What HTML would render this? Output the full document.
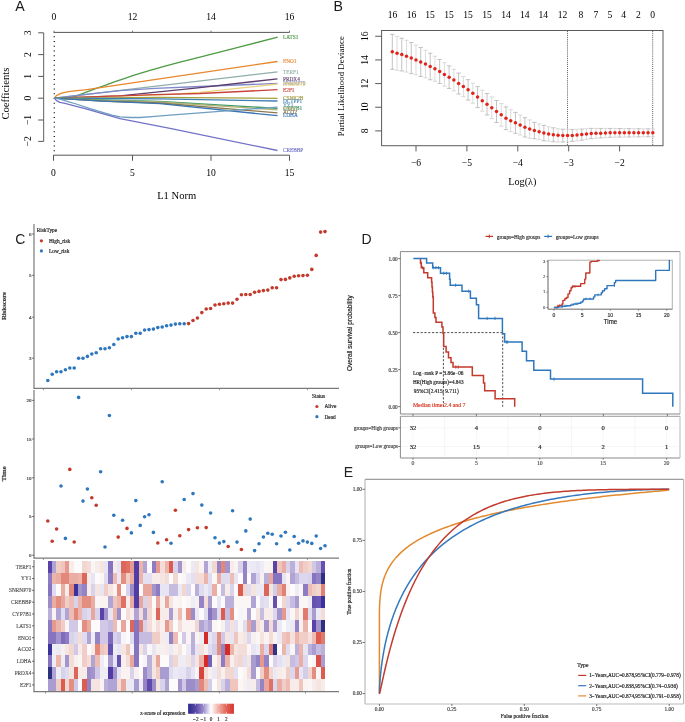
<!DOCTYPE html>
<html><head><meta charset="utf-8"><title>Figure</title>
<style>html,body{margin:0;padding:0;background:#fff;}svg{display:block;will-change:transform;}</style></head>
<body><svg width="685" height="722" viewBox="0 0 685 722">
<rect width="685" height="722" fill="#fff"/>
<text x="19.90" y="10.60" font-family='"Liberation Sans", sans-serif' font-size="14.2" text-anchor="middle" fill="#1a1a1a" >A</text>
<line x1="53.50" y1="32.40" x2="289.50" y2="32.40" stroke="#555555" stroke-width="1" />
<line x1="54.00" y1="32.40" x2="54.00" y2="30.60" stroke="#555555" stroke-width="0.8" />
<text x="54.00" y="19.60" font-family='"Liberation Serif", serif' font-size="9.6" text-anchor="middle" fill="#000" >0</text>
<line x1="132.50" y1="32.40" x2="132.50" y2="30.60" stroke="#555555" stroke-width="0.8" />
<text x="132.50" y="19.60" font-family='"Liberation Serif", serif' font-size="9.6" text-anchor="middle" fill="#000" >12</text>
<line x1="211.00" y1="32.40" x2="211.00" y2="30.60" stroke="#555555" stroke-width="0.8" />
<text x="211.00" y="19.60" font-family='"Liberation Serif", serif' font-size="9.6" text-anchor="middle" fill="#000" >14</text>
<line x1="289.50" y1="32.40" x2="289.50" y2="30.60" stroke="#555555" stroke-width="0.8" />
<text x="289.50" y="19.60" font-family='"Liberation Serif", serif' font-size="9.6" text-anchor="middle" fill="#000" >16</text>
<line x1="53.50" y1="155.20" x2="289.50" y2="155.20" stroke="#555555" stroke-width="1" />
<line x1="53.50" y1="155.20" x2="53.50" y2="160.80" stroke="#555555" stroke-width="1" />
<text x="53.50" y="175.60" font-family='"Liberation Serif", serif' font-size="9.6" text-anchor="middle" fill="#000" >0</text>
<line x1="132.50" y1="155.20" x2="132.50" y2="160.80" stroke="#555555" stroke-width="1" />
<text x="132.50" y="175.60" font-family='"Liberation Serif", serif' font-size="9.6" text-anchor="middle" fill="#000" >5</text>
<line x1="211.00" y1="155.20" x2="211.00" y2="160.80" stroke="#555555" stroke-width="1" />
<text x="211.00" y="175.60" font-family='"Liberation Serif", serif' font-size="9.6" text-anchor="middle" fill="#000" >10</text>
<line x1="289.50" y1="155.20" x2="289.50" y2="160.80" stroke="#555555" stroke-width="1" />
<text x="289.50" y="175.60" font-family='"Liberation Serif", serif' font-size="9.6" text-anchor="middle" fill="#000" >15</text>
<line x1="43.60" y1="32.80" x2="43.60" y2="141.40" stroke="#7a7a7a" stroke-width="1.2" />
<line x1="38.20" y1="32.80" x2="43.60" y2="32.80" stroke="#555555" stroke-width="1" />
<text x="30.60" y="32.80" font-family='"Liberation Serif", serif' font-size="9.6" text-anchor="middle" fill="#000" transform="rotate(-90 30.60 32.80)" >3</text>
<line x1="38.20" y1="54.60" x2="43.60" y2="54.60" stroke="#555555" stroke-width="1" />
<text x="30.60" y="54.60" font-family='"Liberation Serif", serif' font-size="9.6" text-anchor="middle" fill="#000" transform="rotate(-90 30.60 54.60)" >2</text>
<line x1="38.20" y1="76.40" x2="43.60" y2="76.40" stroke="#555555" stroke-width="1" />
<text x="30.60" y="76.40" font-family='"Liberation Serif", serif' font-size="9.6" text-anchor="middle" fill="#000" transform="rotate(-90 30.60 76.40)" >1</text>
<line x1="38.20" y1="98.20" x2="43.60" y2="98.20" stroke="#555555" stroke-width="1" />
<text x="30.60" y="98.20" font-family='"Liberation Serif", serif' font-size="9.6" text-anchor="middle" fill="#000" transform="rotate(-90 30.60 98.20)" >0</text>
<line x1="38.20" y1="120.00" x2="43.60" y2="120.00" stroke="#555555" stroke-width="1" />
<text x="30.60" y="120.00" font-family='"Liberation Serif", serif' font-size="9.6" text-anchor="middle" fill="#000" transform="rotate(-90 30.60 120.00)" >−1</text>
<line x1="38.20" y1="141.40" x2="43.60" y2="141.40" stroke="#555555" stroke-width="1" />
<text x="30.60" y="141.40" font-family='"Liberation Serif", serif' font-size="9.6" text-anchor="middle" fill="#000" transform="rotate(-90 30.60 141.40)" >−2</text>
<text x="8.60" y="93.60" font-family='"Liberation Serif", serif' font-size="10.7" text-anchor="middle" fill="#000" transform="rotate(-90 8.60 93.60)" >Coefficients</text>
<text x="176.70" y="199.00" font-family='"Liberation Serif", serif' font-size="10.6" text-anchor="middle" fill="#000" >L1 Norm</text>
<line x1="54.30" y1="36.15" x2="54.30" y2="155.00" stroke="#111" stroke-width="1.3" stroke-dasharray="1.2 3.55"/>
<polyline points="54.40,98.20 68.00,98.20 72.00,97.60 78.00,95.30 85.00,92.60 95.00,88.90 105.00,85.30 115.00,81.70 125.00,78.30 132.00,75.90 140.00,73.30 150.00,70.40 165.00,66.20 180.00,62.10 200.00,57.10 240.00,46.80 277.70,37.20" fill="none" stroke="#4e9a45" stroke-width="1.3" stroke-linejoin="round" />
<polyline points="54.40,98.20 55.50,96.60 57.30,95.10 60.80,93.40 65.00,92.30 70.00,91.40 77.00,90.60 85.00,89.80 277.50,61.50" fill="none" stroke="#e8862c" stroke-width="1.3" stroke-linejoin="round" />
<polyline points="54.40,98.20 277.50,71.90" fill="none" stroke="#8eaeaa" stroke-width="1.3" stroke-linejoin="round" />
<polyline points="54.40,98.20 100.00,92.90 120.00,90.70 155.00,88.30 200.00,86.50 277.50,83.40" fill="none" stroke="#7f88c8" stroke-width="1.3" stroke-linejoin="round" />
<polyline points="54.40,98.20 120.00,95.90 200.00,87.70 277.50,78.80" fill="none" stroke="#5c3d6c" stroke-width="1.3" stroke-linejoin="round" />
<polyline points="54.40,98.20 166.70,94.70 200.00,92.40 277.50,84.00" fill="none" stroke="#ecd27c" stroke-width="1.3" stroke-linejoin="round" />
<polyline points="54.40,98.20 155.00,94.70 200.00,93.50 277.50,89.70" fill="none" stroke="#c8443a" stroke-width="1.3" stroke-linejoin="round" />
<polyline points="54.40,98.20 102.00,97.80 160.00,97.40 277.50,98.30" fill="none" stroke="#a59f3e" stroke-width="1.3" stroke-linejoin="round" />
<polyline points="54.40,98.20 102.00,98.50 160.00,98.90 277.50,101.00" fill="none" stroke="#3d80b4" stroke-width="1.3" stroke-linejoin="round" />
<polyline points="54.40,98.20 102.00,100.00 160.00,101.50 277.50,108.40" fill="none" stroke="#3a9a6a" stroke-width="1.3" stroke-linejoin="round" />
<polyline points="54.40,98.20 102.00,100.50 160.00,102.00 277.50,109.80" fill="none" stroke="#b4b478" stroke-width="1.3" stroke-linejoin="round" />
<polyline points="54.40,98.20 102.00,101.00 160.00,103.00 277.50,112.90" fill="none" stroke="#8a7a4c" stroke-width="1.3" stroke-linejoin="round" />
<polyline points="54.40,98.20 102.00,101.20 160.00,103.60 277.50,115.70" fill="none" stroke="#3a74b4" stroke-width="1.3" stroke-linejoin="round" />
<polyline points="54.40,98.20 57.00,98.60 59.90,99.10 68.00,101.60 76.30,104.00 90.00,108.60 102.60,112.40 112.00,115.20 120.00,116.80 130.00,117.50 140.00,117.50 155.00,116.30 170.00,115.10 277.50,107.10" fill="none" stroke="#6e9fc0" stroke-width="1.3" stroke-linejoin="round" />
<polyline points="54.40,98.20 56.50,100.60 59.90,102.40 64.00,103.20 85.00,108.60 120.00,118.70 170.00,128.30 277.50,150.50" fill="none" stroke="#7272c8" stroke-width="1.3" stroke-linejoin="round" />
<text x="283.00" y="39.00" font-family='"Liberation Serif", serif' font-size="5.3" text-anchor="start" fill="#5aa052"  stroke="#5aa052" stroke-width="0.18" stroke-linejoin="round">LATS1</text>
<text x="283.00" y="63.30" font-family='"Liberation Serif", serif' font-size="5.3" text-anchor="start" fill="#e99048"  stroke="#e99048" stroke-width="0.18" stroke-linejoin="round">ENO1</text>
<text x="283.00" y="73.80" font-family='"Liberation Serif", serif' font-size="5.3" text-anchor="start" fill="#9ab6b2"  stroke="#9ab6b2" stroke-width="0.18" stroke-linejoin="round">TERF1</text>
<text x="283.00" y="80.80" font-family='"Liberation Serif", serif' font-size="5.3" text-anchor="start" fill="#6a4c78"  stroke="#6a4c78" stroke-width="0.18" stroke-linejoin="round">PRDX4</text>
<text x="283.00" y="85.00" font-family='"Liberation Serif", serif' font-size="5.3" text-anchor="start" fill="#8d93cc"  stroke="#8d93cc" stroke-width="0.18" stroke-linejoin="round">SNRNP70</text>
<text x="283.00" y="86.00" font-family='"Liberation Serif", serif' font-size="5.3" text-anchor="start" fill="#e2cf7e"  stroke="#e2cf7e" stroke-width="0.18" stroke-linejoin="round">SNRNP70</text>
<text x="283.00" y="91.70" font-family='"Liberation Serif", serif' font-size="5.3" text-anchor="start" fill="#c95048"  stroke="#c95048" stroke-width="0.18" stroke-linejoin="round">E2F1</text>
<text x="283.00" y="99.80" font-family='"Liberation Serif", serif' font-size="5.3" text-anchor="start" fill="#a8a24a"  stroke="#a8a24a" stroke-width="0.18" stroke-linejoin="round">CSNK2B</text>
<text x="283.00" y="102.80" font-family='"Liberation Serif", serif' font-size="5.3" text-anchor="start" fill="#5c90be"  stroke="#5c90be" stroke-width="0.18" stroke-linejoin="round">DCTPP1</text>
<text x="283.00" y="107.40" font-family='"Liberation Serif", serif' font-size="5.3" text-anchor="start" fill="#6e9fc0"  stroke="#6e9fc0" stroke-width="0.18" stroke-linejoin="round">YY1</text>
<text x="283.00" y="110.40" font-family='"Liberation Serif", serif' font-size="5.3" text-anchor="start" fill="#4a9a72"  stroke="#4a9a72" stroke-width="0.18" stroke-linejoin="round">CYP7B1</text>
<text x="283.00" y="111.40" font-family='"Liberation Serif", serif' font-size="5.3" text-anchor="start" fill="#a8a870"  stroke="#a8a870" stroke-width="0.18" stroke-linejoin="round">SSRP1</text>
<text x="283.00" y="114.20" font-family='"Liberation Serif", serif' font-size="5.3" text-anchor="start" fill="#8a7a54"  stroke="#8a7a54" stroke-width="0.18" stroke-linejoin="round">ACO2</text>
<text x="283.00" y="117.40" font-family='"Liberation Serif", serif' font-size="5.3" text-anchor="start" fill="#4a80bc"  stroke="#4a80bc" stroke-width="0.18" stroke-linejoin="round">LDHA</text>
<text x="283.00" y="152.40" font-family='"Liberation Serif", serif' font-size="5.3" text-anchor="start" fill="#7a7ac8"  stroke="#7a7ac8" stroke-width="0.18" stroke-linejoin="round">CREBBP</text>
<text x="338.30" y="10.60" font-family='"Liberation Sans", sans-serif' font-size="14.2" text-anchor="middle" fill="#1a1a1a" >B</text>
<rect x="381.6" y="30.5" width="281.4" height="115.19999999999999" fill="none" stroke="#5a5a5a" stroke-width="1"/>
<text x="392.50" y="17.90" font-family='"Liberation Serif", serif' font-size="9.6" text-anchor="middle" fill="#000" >16</text>
<text x="411.50" y="17.90" font-family='"Liberation Serif", serif' font-size="9.6" text-anchor="middle" fill="#000" >16</text>
<text x="430.00" y="17.90" font-family='"Liberation Serif", serif' font-size="9.6" text-anchor="middle" fill="#000" >15</text>
<text x="449.00" y="17.90" font-family='"Liberation Serif", serif' font-size="9.6" text-anchor="middle" fill="#000" >15</text>
<text x="468.00" y="17.90" font-family='"Liberation Serif", serif' font-size="9.6" text-anchor="middle" fill="#000" >15</text>
<text x="487.00" y="17.90" font-family='"Liberation Serif", serif' font-size="9.6" text-anchor="middle" fill="#000" >15</text>
<text x="506.00" y="17.90" font-family='"Liberation Serif", serif' font-size="9.6" text-anchor="middle" fill="#000" >14</text>
<text x="524.80" y="17.90" font-family='"Liberation Serif", serif' font-size="9.6" text-anchor="middle" fill="#000" >14</text>
<text x="543.20" y="17.90" font-family='"Liberation Serif", serif' font-size="9.6" text-anchor="middle" fill="#000" >14</text>
<text x="562.60" y="17.90" font-family='"Liberation Serif", serif' font-size="9.6" text-anchor="middle" fill="#000" >12</text>
<text x="581.00" y="17.90" font-family='"Liberation Serif", serif' font-size="9.6" text-anchor="middle" fill="#000" >8</text>
<text x="595.90" y="17.90" font-family='"Liberation Serif", serif' font-size="9.6" text-anchor="middle" fill="#000" >7</text>
<text x="610.00" y="17.90" font-family='"Liberation Serif", serif' font-size="9.6" text-anchor="middle" fill="#000" >5</text>
<text x="623.70" y="17.90" font-family='"Liberation Serif", serif' font-size="9.6" text-anchor="middle" fill="#000" >4</text>
<text x="638.30" y="17.90" font-family='"Liberation Serif", serif' font-size="9.6" text-anchor="middle" fill="#000" >2</text>
<text x="652.60" y="17.90" font-family='"Liberation Serif", serif' font-size="9.6" text-anchor="middle" fill="#000" >0</text>
<line x1="375.20" y1="130.90" x2="381.60" y2="130.90" stroke="#5a5a5a" stroke-width="1" />
<text x="367.60" y="130.90" font-family='"Liberation Serif", serif' font-size="9.6" text-anchor="middle" fill="#000" transform="rotate(-90 367.60 130.90)" >8</text>
<line x1="375.20" y1="107.24" x2="381.60" y2="107.24" stroke="#5a5a5a" stroke-width="1" />
<text x="367.60" y="107.24" font-family='"Liberation Serif", serif' font-size="9.6" text-anchor="middle" fill="#000" transform="rotate(-90 367.60 107.24)" >10</text>
<line x1="375.20" y1="83.58" x2="381.60" y2="83.58" stroke="#5a5a5a" stroke-width="1" />
<text x="367.60" y="83.58" font-family='"Liberation Serif", serif' font-size="9.6" text-anchor="middle" fill="#000" transform="rotate(-90 367.60 83.58)" >12</text>
<line x1="375.20" y1="59.92" x2="381.60" y2="59.92" stroke="#5a5a5a" stroke-width="1" />
<text x="367.60" y="59.92" font-family='"Liberation Serif", serif' font-size="9.6" text-anchor="middle" fill="#000" transform="rotate(-90 367.60 59.92)" >14</text>
<line x1="375.20" y1="36.26" x2="381.60" y2="36.26" stroke="#5a5a5a" stroke-width="1" />
<text x="367.60" y="36.26" font-family='"Liberation Serif", serif' font-size="9.6" text-anchor="middle" fill="#000" transform="rotate(-90 367.60 36.26)" >16</text>
<text x="344.00" y="86.20" font-family='"Liberation Serif", serif' font-size="8.9" text-anchor="middle" fill="#000" transform="rotate(-90 344.00 86.20)" >Partial Likelihood Deviance</text>
<line x1="416.00" y1="145.70" x2="416.00" y2="151.40" stroke="#5a5a5a" stroke-width="1" />
<text x="416.00" y="166.20" font-family='"Liberation Serif", serif' font-size="9.6" text-anchor="middle" fill="#000" >−6</text>
<line x1="466.90" y1="145.70" x2="466.90" y2="151.40" stroke="#5a5a5a" stroke-width="1" />
<text x="466.90" y="166.20" font-family='"Liberation Serif", serif' font-size="9.6" text-anchor="middle" fill="#000" >−5</text>
<line x1="517.80" y1="145.70" x2="517.80" y2="151.40" stroke="#5a5a5a" stroke-width="1" />
<text x="517.80" y="166.20" font-family='"Liberation Serif", serif' font-size="9.6" text-anchor="middle" fill="#000" >−4</text>
<line x1="568.70" y1="145.70" x2="568.70" y2="151.40" stroke="#5a5a5a" stroke-width="1" />
<text x="568.70" y="166.20" font-family='"Liberation Serif", serif' font-size="9.6" text-anchor="middle" fill="#000" >−3</text>
<line x1="619.60" y1="145.70" x2="619.60" y2="151.40" stroke="#5a5a5a" stroke-width="1" />
<text x="619.60" y="166.20" font-family='"Liberation Serif", serif' font-size="9.6" text-anchor="middle" fill="#000" >−2</text>
<text x="522.30" y="185.00" font-family='"Liberation Serif", serif' font-size="10.2" text-anchor="middle" fill="#000" >Log(λ)</text>
<line x1="567.50" y1="31.10" x2="567.50" y2="145.70" stroke="#333" stroke-width="0.8" stroke-dasharray="1 1.05"/>
<line x1="652.70" y1="31.10" x2="652.70" y2="145.70" stroke="#333" stroke-width="0.8" stroke-dasharray="1 1.05"/>
<line x1="392.30" y1="34.34" x2="392.30" y2="69.26" stroke="#b4b4b4" stroke-width="0.8" />
<line x1="390.10" y1="34.34" x2="394.50" y2="34.34" stroke="#b4b4b4" stroke-width="0.8" />
<line x1="390.10" y1="69.26" x2="394.50" y2="69.26" stroke="#b4b4b4" stroke-width="0.8" />
<line x1="397.04" y1="36.44" x2="397.04" y2="70.18" stroke="#d2d2d2" stroke-width="0.8" />
<line x1="394.84" y1="36.44" x2="399.24" y2="36.44" stroke="#d2d2d2" stroke-width="0.8" />
<line x1="394.84" y1="70.18" x2="399.24" y2="70.18" stroke="#d2d2d2" stroke-width="0.8" />
<line x1="401.77" y1="38.23" x2="401.77" y2="70.95" stroke="#b4b4b4" stroke-width="0.8" />
<line x1="399.57" y1="38.23" x2="403.97" y2="38.23" stroke="#b4b4b4" stroke-width="0.8" />
<line x1="399.57" y1="70.95" x2="403.97" y2="70.95" stroke="#b4b4b4" stroke-width="0.8" />
<line x1="406.51" y1="40.32" x2="406.51" y2="72.09" stroke="#d2d2d2" stroke-width="0.8" />
<line x1="404.31" y1="40.32" x2="408.71" y2="40.32" stroke="#d2d2d2" stroke-width="0.8" />
<line x1="404.31" y1="72.09" x2="408.71" y2="72.09" stroke="#d2d2d2" stroke-width="0.8" />
<line x1="411.25" y1="42.51" x2="411.25" y2="73.64" stroke="#b4b4b4" stroke-width="0.8" />
<line x1="409.05" y1="42.51" x2="413.45" y2="42.51" stroke="#b4b4b4" stroke-width="0.8" />
<line x1="409.05" y1="73.64" x2="413.45" y2="73.64" stroke="#b4b4b4" stroke-width="0.8" />
<line x1="415.98" y1="45.02" x2="415.98" y2="74.77" stroke="#d2d2d2" stroke-width="0.8" />
<line x1="413.78" y1="45.02" x2="418.18" y2="45.02" stroke="#d2d2d2" stroke-width="0.8" />
<line x1="413.78" y1="74.77" x2="418.18" y2="74.77" stroke="#d2d2d2" stroke-width="0.8" />
<line x1="420.72" y1="47.54" x2="420.72" y2="76.48" stroke="#b4b4b4" stroke-width="0.8" />
<line x1="418.52" y1="47.54" x2="422.92" y2="47.54" stroke="#b4b4b4" stroke-width="0.8" />
<line x1="418.52" y1="76.48" x2="422.92" y2="76.48" stroke="#b4b4b4" stroke-width="0.8" />
<line x1="425.45" y1="50.21" x2="425.45" y2="77.95" stroke="#d2d2d2" stroke-width="0.8" />
<line x1="423.25" y1="50.21" x2="427.65" y2="50.21" stroke="#d2d2d2" stroke-width="0.8" />
<line x1="423.25" y1="77.95" x2="427.65" y2="77.95" stroke="#d2d2d2" stroke-width="0.8" />
<line x1="430.19" y1="53.24" x2="430.19" y2="79.75" stroke="#b4b4b4" stroke-width="0.8" />
<line x1="427.99" y1="53.24" x2="432.39" y2="53.24" stroke="#b4b4b4" stroke-width="0.8" />
<line x1="427.99" y1="79.75" x2="432.39" y2="79.75" stroke="#b4b4b4" stroke-width="0.8" />
<line x1="434.93" y1="56.24" x2="434.93" y2="81.39" stroke="#d2d2d2" stroke-width="0.8" />
<line x1="432.73" y1="56.24" x2="437.13" y2="56.24" stroke="#d2d2d2" stroke-width="0.8" />
<line x1="432.73" y1="81.39" x2="437.13" y2="81.39" stroke="#d2d2d2" stroke-width="0.8" />
<line x1="439.66" y1="59.49" x2="439.66" y2="83.47" stroke="#b4b4b4" stroke-width="0.8" />
<line x1="437.46" y1="59.49" x2="441.86" y2="59.49" stroke="#b4b4b4" stroke-width="0.8" />
<line x1="437.46" y1="83.47" x2="441.86" y2="83.47" stroke="#b4b4b4" stroke-width="0.8" />
<line x1="444.40" y1="62.63" x2="444.40" y2="86.17" stroke="#d2d2d2" stroke-width="0.8" />
<line x1="442.20" y1="62.63" x2="446.60" y2="62.63" stroke="#d2d2d2" stroke-width="0.8" />
<line x1="442.20" y1="86.17" x2="446.60" y2="86.17" stroke="#d2d2d2" stroke-width="0.8" />
<line x1="449.14" y1="65.89" x2="449.14" y2="88.44" stroke="#b4b4b4" stroke-width="0.8" />
<line x1="446.94" y1="65.89" x2="451.34" y2="65.89" stroke="#b4b4b4" stroke-width="0.8" />
<line x1="446.94" y1="88.44" x2="451.34" y2="88.44" stroke="#b4b4b4" stroke-width="0.8" />
<line x1="453.87" y1="69.30" x2="453.87" y2="90.87" stroke="#d2d2d2" stroke-width="0.8" />
<line x1="451.67" y1="69.30" x2="456.07" y2="69.30" stroke="#d2d2d2" stroke-width="0.8" />
<line x1="451.67" y1="90.87" x2="456.07" y2="90.87" stroke="#d2d2d2" stroke-width="0.8" />
<line x1="458.61" y1="73.09" x2="458.61" y2="94.03" stroke="#b4b4b4" stroke-width="0.8" />
<line x1="456.41" y1="73.09" x2="460.81" y2="73.09" stroke="#b4b4b4" stroke-width="0.8" />
<line x1="456.41" y1="94.03" x2="460.81" y2="94.03" stroke="#b4b4b4" stroke-width="0.8" />
<line x1="463.35" y1="76.59" x2="463.35" y2="96.61" stroke="#d2d2d2" stroke-width="0.8" />
<line x1="461.15" y1="76.59" x2="465.55" y2="76.59" stroke="#d2d2d2" stroke-width="0.8" />
<line x1="461.15" y1="96.61" x2="465.55" y2="96.61" stroke="#d2d2d2" stroke-width="0.8" />
<line x1="468.08" y1="79.67" x2="468.08" y2="100.05" stroke="#b4b4b4" stroke-width="0.8" />
<line x1="465.88" y1="79.67" x2="470.28" y2="79.67" stroke="#b4b4b4" stroke-width="0.8" />
<line x1="465.88" y1="100.05" x2="470.28" y2="100.05" stroke="#b4b4b4" stroke-width="0.8" />
<line x1="472.82" y1="83.17" x2="472.82" y2="103.22" stroke="#d2d2d2" stroke-width="0.8" />
<line x1="470.62" y1="83.17" x2="475.02" y2="83.17" stroke="#d2d2d2" stroke-width="0.8" />
<line x1="470.62" y1="103.22" x2="475.02" y2="103.22" stroke="#d2d2d2" stroke-width="0.8" />
<line x1="477.55" y1="86.62" x2="477.55" y2="107.62" stroke="#b4b4b4" stroke-width="0.8" />
<line x1="475.35" y1="86.62" x2="479.75" y2="86.62" stroke="#b4b4b4" stroke-width="0.8" />
<line x1="475.35" y1="107.62" x2="479.75" y2="107.62" stroke="#b4b4b4" stroke-width="0.8" />
<line x1="482.29" y1="90.21" x2="482.29" y2="111.23" stroke="#d2d2d2" stroke-width="0.8" />
<line x1="480.09" y1="90.21" x2="484.49" y2="90.21" stroke="#d2d2d2" stroke-width="0.8" />
<line x1="480.09" y1="111.23" x2="484.49" y2="111.23" stroke="#d2d2d2" stroke-width="0.8" />
<line x1="487.03" y1="93.59" x2="487.03" y2="115.00" stroke="#b4b4b4" stroke-width="0.8" />
<line x1="484.83" y1="93.59" x2="489.23" y2="93.59" stroke="#b4b4b4" stroke-width="0.8" />
<line x1="484.83" y1="115.00" x2="489.23" y2="115.00" stroke="#b4b4b4" stroke-width="0.8" />
<line x1="491.76" y1="96.93" x2="491.76" y2="118.54" stroke="#d2d2d2" stroke-width="0.8" />
<line x1="489.56" y1="96.93" x2="493.96" y2="96.93" stroke="#d2d2d2" stroke-width="0.8" />
<line x1="489.56" y1="118.54" x2="493.96" y2="118.54" stroke="#d2d2d2" stroke-width="0.8" />
<line x1="496.50" y1="100.53" x2="496.50" y2="122.55" stroke="#b4b4b4" stroke-width="0.8" />
<line x1="494.30" y1="100.53" x2="498.70" y2="100.53" stroke="#b4b4b4" stroke-width="0.8" />
<line x1="494.30" y1="122.55" x2="498.70" y2="122.55" stroke="#b4b4b4" stroke-width="0.8" />
<line x1="501.24" y1="103.57" x2="501.24" y2="126.18" stroke="#d2d2d2" stroke-width="0.8" />
<line x1="499.04" y1="103.57" x2="503.44" y2="103.57" stroke="#d2d2d2" stroke-width="0.8" />
<line x1="499.04" y1="126.18" x2="503.44" y2="126.18" stroke="#d2d2d2" stroke-width="0.8" />
<line x1="505.97" y1="106.91" x2="505.97" y2="129.66" stroke="#b4b4b4" stroke-width="0.8" />
<line x1="503.77" y1="106.91" x2="508.17" y2="106.91" stroke="#b4b4b4" stroke-width="0.8" />
<line x1="503.77" y1="129.66" x2="508.17" y2="129.66" stroke="#b4b4b4" stroke-width="0.8" />
<line x1="510.71" y1="109.67" x2="510.71" y2="131.63" stroke="#d2d2d2" stroke-width="0.8" />
<line x1="508.51" y1="109.67" x2="512.91" y2="109.67" stroke="#d2d2d2" stroke-width="0.8" />
<line x1="508.51" y1="131.63" x2="512.91" y2="131.63" stroke="#d2d2d2" stroke-width="0.8" />
<line x1="515.45" y1="112.34" x2="515.45" y2="133.31" stroke="#b4b4b4" stroke-width="0.8" />
<line x1="513.25" y1="112.34" x2="517.65" y2="112.34" stroke="#b4b4b4" stroke-width="0.8" />
<line x1="513.25" y1="133.31" x2="517.65" y2="133.31" stroke="#b4b4b4" stroke-width="0.8" />
<line x1="520.18" y1="115.06" x2="520.18" y2="135.03" stroke="#d2d2d2" stroke-width="0.8" />
<line x1="517.98" y1="115.06" x2="522.38" y2="115.06" stroke="#d2d2d2" stroke-width="0.8" />
<line x1="517.98" y1="135.03" x2="522.38" y2="135.03" stroke="#d2d2d2" stroke-width="0.8" />
<line x1="524.92" y1="117.69" x2="524.92" y2="137.00" stroke="#b4b4b4" stroke-width="0.8" />
<line x1="522.72" y1="117.69" x2="527.12" y2="117.69" stroke="#b4b4b4" stroke-width="0.8" />
<line x1="522.72" y1="137.00" x2="527.12" y2="137.00" stroke="#b4b4b4" stroke-width="0.8" />
<line x1="529.65" y1="119.94" x2="529.65" y2="138.23" stroke="#d2d2d2" stroke-width="0.8" />
<line x1="527.45" y1="119.94" x2="531.85" y2="119.94" stroke="#d2d2d2" stroke-width="0.8" />
<line x1="527.45" y1="138.23" x2="531.85" y2="138.23" stroke="#d2d2d2" stroke-width="0.8" />
<line x1="534.39" y1="122.34" x2="534.39" y2="138.71" stroke="#b4b4b4" stroke-width="0.8" />
<line x1="532.19" y1="122.34" x2="536.59" y2="122.34" stroke="#b4b4b4" stroke-width="0.8" />
<line x1="532.19" y1="138.71" x2="536.59" y2="138.71" stroke="#b4b4b4" stroke-width="0.8" />
<line x1="539.13" y1="123.89" x2="539.13" y2="139.68" stroke="#d2d2d2" stroke-width="0.8" />
<line x1="536.93" y1="123.89" x2="541.33" y2="123.89" stroke="#d2d2d2" stroke-width="0.8" />
<line x1="536.93" y1="139.68" x2="541.33" y2="139.68" stroke="#d2d2d2" stroke-width="0.8" />
<line x1="543.86" y1="125.39" x2="543.86" y2="140.74" stroke="#b4b4b4" stroke-width="0.8" />
<line x1="541.66" y1="125.39" x2="546.06" y2="125.39" stroke="#b4b4b4" stroke-width="0.8" />
<line x1="541.66" y1="140.74" x2="546.06" y2="140.74" stroke="#b4b4b4" stroke-width="0.8" />
<line x1="548.60" y1="126.81" x2="548.60" y2="141.19" stroke="#d2d2d2" stroke-width="0.8" />
<line x1="546.40" y1="126.81" x2="550.80" y2="126.81" stroke="#d2d2d2" stroke-width="0.8" />
<line x1="546.40" y1="141.19" x2="550.80" y2="141.19" stroke="#d2d2d2" stroke-width="0.8" />
<line x1="553.34" y1="127.80" x2="553.34" y2="141.75" stroke="#b4b4b4" stroke-width="0.8" />
<line x1="551.14" y1="127.80" x2="555.54" y2="127.80" stroke="#b4b4b4" stroke-width="0.8" />
<line x1="551.14" y1="141.75" x2="555.54" y2="141.75" stroke="#b4b4b4" stroke-width="0.8" />
<line x1="558.07" y1="128.71" x2="558.07" y2="141.90" stroke="#d2d2d2" stroke-width="0.8" />
<line x1="555.87" y1="128.71" x2="560.27" y2="128.71" stroke="#d2d2d2" stroke-width="0.8" />
<line x1="555.87" y1="141.90" x2="560.27" y2="141.90" stroke="#d2d2d2" stroke-width="0.8" />
<line x1="562.81" y1="129.20" x2="562.81" y2="142.00" stroke="#b4b4b4" stroke-width="0.8" />
<line x1="560.61" y1="129.20" x2="565.01" y2="129.20" stroke="#b4b4b4" stroke-width="0.8" />
<line x1="560.61" y1="142.00" x2="565.01" y2="142.00" stroke="#b4b4b4" stroke-width="0.8" />
<line x1="567.55" y1="129.40" x2="567.55" y2="141.80" stroke="#d2d2d2" stroke-width="0.8" />
<line x1="565.35" y1="129.40" x2="569.75" y2="129.40" stroke="#d2d2d2" stroke-width="0.8" />
<line x1="565.35" y1="141.80" x2="569.75" y2="141.80" stroke="#d2d2d2" stroke-width="0.8" />
<line x1="572.28" y1="129.41" x2="572.28" y2="141.40" stroke="#b4b4b4" stroke-width="0.8" />
<line x1="570.08" y1="129.41" x2="574.48" y2="129.41" stroke="#b4b4b4" stroke-width="0.8" />
<line x1="570.08" y1="141.40" x2="574.48" y2="141.40" stroke="#b4b4b4" stroke-width="0.8" />
<line x1="577.02" y1="129.31" x2="577.02" y2="140.89" stroke="#d2d2d2" stroke-width="0.8" />
<line x1="574.82" y1="129.31" x2="579.22" y2="129.31" stroke="#d2d2d2" stroke-width="0.8" />
<line x1="574.82" y1="140.89" x2="579.22" y2="140.89" stroke="#d2d2d2" stroke-width="0.8" />
<line x1="581.75" y1="129.02" x2="581.75" y2="140.19" stroke="#b4b4b4" stroke-width="0.8" />
<line x1="579.55" y1="129.02" x2="583.95" y2="129.02" stroke="#b4b4b4" stroke-width="0.8" />
<line x1="579.55" y1="140.19" x2="583.95" y2="140.19" stroke="#b4b4b4" stroke-width="0.8" />
<line x1="586.49" y1="128.63" x2="586.49" y2="139.35" stroke="#d2d2d2" stroke-width="0.8" />
<line x1="584.29" y1="128.63" x2="588.69" y2="128.63" stroke="#d2d2d2" stroke-width="0.8" />
<line x1="584.29" y1="139.35" x2="588.69" y2="139.35" stroke="#d2d2d2" stroke-width="0.8" />
<line x1="591.23" y1="128.38" x2="591.23" y2="138.64" stroke="#b4b4b4" stroke-width="0.8" />
<line x1="589.03" y1="128.38" x2="593.43" y2="128.38" stroke="#b4b4b4" stroke-width="0.8" />
<line x1="589.03" y1="138.64" x2="593.43" y2="138.64" stroke="#b4b4b4" stroke-width="0.8" />
<line x1="595.96" y1="128.44" x2="595.96" y2="138.24" stroke="#d2d2d2" stroke-width="0.8" />
<line x1="593.76" y1="128.44" x2="598.16" y2="128.44" stroke="#d2d2d2" stroke-width="0.8" />
<line x1="593.76" y1="138.24" x2="598.16" y2="138.24" stroke="#d2d2d2" stroke-width="0.8" />
<line x1="600.70" y1="128.43" x2="600.70" y2="137.91" stroke="#b4b4b4" stroke-width="0.8" />
<line x1="598.50" y1="128.43" x2="602.90" y2="128.43" stroke="#b4b4b4" stroke-width="0.8" />
<line x1="598.50" y1="137.91" x2="602.90" y2="137.91" stroke="#b4b4b4" stroke-width="0.8" />
<line x1="605.44" y1="128.43" x2="605.44" y2="137.58" stroke="#d2d2d2" stroke-width="0.8" />
<line x1="603.24" y1="128.43" x2="607.64" y2="128.43" stroke="#d2d2d2" stroke-width="0.8" />
<line x1="603.24" y1="137.58" x2="607.64" y2="137.58" stroke="#d2d2d2" stroke-width="0.8" />
<line x1="610.17" y1="128.43" x2="610.17" y2="137.25" stroke="#b4b4b4" stroke-width="0.8" />
<line x1="607.97" y1="128.43" x2="612.37" y2="128.43" stroke="#b4b4b4" stroke-width="0.8" />
<line x1="607.97" y1="137.25" x2="612.37" y2="137.25" stroke="#b4b4b4" stroke-width="0.8" />
<line x1="614.91" y1="128.45" x2="614.91" y2="137.15" stroke="#d2d2d2" stroke-width="0.8" />
<line x1="612.71" y1="128.45" x2="617.11" y2="128.45" stroke="#d2d2d2" stroke-width="0.8" />
<line x1="612.71" y1="137.15" x2="617.11" y2="137.15" stroke="#d2d2d2" stroke-width="0.8" />
<line x1="619.65" y1="128.51" x2="619.65" y2="137.09" stroke="#b4b4b4" stroke-width="0.8" />
<line x1="617.45" y1="128.51" x2="621.85" y2="128.51" stroke="#b4b4b4" stroke-width="0.8" />
<line x1="617.45" y1="137.09" x2="621.85" y2="137.09" stroke="#b4b4b4" stroke-width="0.8" />
<line x1="624.38" y1="128.56" x2="624.38" y2="137.04" stroke="#d2d2d2" stroke-width="0.8" />
<line x1="622.18" y1="128.56" x2="626.58" y2="128.56" stroke="#d2d2d2" stroke-width="0.8" />
<line x1="622.18" y1="137.04" x2="626.58" y2="137.04" stroke="#d2d2d2" stroke-width="0.8" />
<line x1="629.12" y1="128.62" x2="629.12" y2="136.98" stroke="#b4b4b4" stroke-width="0.8" />
<line x1="626.92" y1="128.62" x2="631.32" y2="128.62" stroke="#b4b4b4" stroke-width="0.8" />
<line x1="626.92" y1="136.98" x2="631.32" y2="136.98" stroke="#b4b4b4" stroke-width="0.8" />
<line x1="633.85" y1="128.68" x2="633.85" y2="136.92" stroke="#d2d2d2" stroke-width="0.8" />
<line x1="631.65" y1="128.68" x2="636.05" y2="128.68" stroke="#d2d2d2" stroke-width="0.8" />
<line x1="631.65" y1="136.92" x2="636.05" y2="136.92" stroke="#d2d2d2" stroke-width="0.8" />
<line x1="638.59" y1="128.73" x2="638.59" y2="136.87" stroke="#b4b4b4" stroke-width="0.8" />
<line x1="636.39" y1="128.73" x2="640.79" y2="128.73" stroke="#b4b4b4" stroke-width="0.8" />
<line x1="636.39" y1="136.87" x2="640.79" y2="136.87" stroke="#b4b4b4" stroke-width="0.8" />
<line x1="643.33" y1="128.79" x2="643.33" y2="136.81" stroke="#d2d2d2" stroke-width="0.8" />
<line x1="641.13" y1="128.79" x2="645.53" y2="128.79" stroke="#d2d2d2" stroke-width="0.8" />
<line x1="641.13" y1="136.81" x2="645.53" y2="136.81" stroke="#d2d2d2" stroke-width="0.8" />
<line x1="648.06" y1="128.84" x2="648.06" y2="136.76" stroke="#b4b4b4" stroke-width="0.8" />
<line x1="645.86" y1="128.84" x2="650.26" y2="128.84" stroke="#b4b4b4" stroke-width="0.8" />
<line x1="645.86" y1="136.76" x2="650.26" y2="136.76" stroke="#b4b4b4" stroke-width="0.8" />
<line x1="652.80" y1="128.90" x2="652.80" y2="136.70" stroke="#d2d2d2" stroke-width="0.8" />
<line x1="650.60" y1="128.90" x2="655.00" y2="128.90" stroke="#d2d2d2" stroke-width="0.8" />
<line x1="650.60" y1="136.70" x2="655.00" y2="136.70" stroke="#d2d2d2" stroke-width="0.8" />
<circle cx="392.30" cy="51.80" r="1.75" fill="#e2231a"/>
<circle cx="397.04" cy="53.31" r="1.75" fill="#e2231a"/>
<circle cx="401.77" cy="54.59" r="1.75" fill="#e2231a"/>
<circle cx="406.51" cy="56.20" r="1.75" fill="#e2231a"/>
<circle cx="411.25" cy="58.08" r="1.75" fill="#e2231a"/>
<circle cx="415.98" cy="59.89" r="1.75" fill="#e2231a"/>
<circle cx="420.72" cy="62.01" r="1.75" fill="#e2231a"/>
<circle cx="425.45" cy="64.08" r="1.75" fill="#e2231a"/>
<circle cx="430.19" cy="66.50" r="1.75" fill="#e2231a"/>
<circle cx="434.93" cy="68.82" r="1.75" fill="#e2231a"/>
<circle cx="439.66" cy="71.48" r="1.75" fill="#e2231a"/>
<circle cx="444.40" cy="74.40" r="1.75" fill="#e2231a"/>
<circle cx="449.14" cy="77.16" r="1.75" fill="#e2231a"/>
<circle cx="453.87" cy="80.08" r="1.75" fill="#e2231a"/>
<circle cx="458.61" cy="83.56" r="1.75" fill="#e2231a"/>
<circle cx="463.35" cy="86.60" r="1.75" fill="#e2231a"/>
<circle cx="468.08" cy="89.86" r="1.75" fill="#e2231a"/>
<circle cx="472.82" cy="93.20" r="1.75" fill="#e2231a"/>
<circle cx="477.55" cy="97.12" r="1.75" fill="#e2231a"/>
<circle cx="482.29" cy="100.72" r="1.75" fill="#e2231a"/>
<circle cx="487.03" cy="104.29" r="1.75" fill="#e2231a"/>
<circle cx="491.76" cy="107.73" r="1.75" fill="#e2231a"/>
<circle cx="496.50" cy="111.54" r="1.75" fill="#e2231a"/>
<circle cx="501.24" cy="114.87" r="1.75" fill="#e2231a"/>
<circle cx="505.97" cy="118.29" r="1.75" fill="#e2231a"/>
<circle cx="510.71" cy="120.65" r="1.75" fill="#e2231a"/>
<circle cx="515.45" cy="122.82" r="1.75" fill="#e2231a"/>
<circle cx="520.18" cy="125.04" r="1.75" fill="#e2231a"/>
<circle cx="524.92" cy="127.34" r="1.75" fill="#e2231a"/>
<circle cx="529.65" cy="129.08" r="1.75" fill="#e2231a"/>
<circle cx="534.39" cy="130.52" r="1.75" fill="#e2231a"/>
<circle cx="539.13" cy="131.78" r="1.75" fill="#e2231a"/>
<circle cx="543.86" cy="133.06" r="1.75" fill="#e2231a"/>
<circle cx="548.60" cy="134.00" r="1.75" fill="#e2231a"/>
<circle cx="553.34" cy="134.77" r="1.75" fill="#e2231a"/>
<circle cx="558.07" cy="135.30" r="1.75" fill="#e2231a"/>
<circle cx="562.81" cy="135.60" r="1.75" fill="#e2231a"/>
<circle cx="567.55" cy="135.60" r="1.75" fill="#e2231a"/>
<circle cx="572.28" cy="135.40" r="1.75" fill="#e2231a"/>
<circle cx="577.02" cy="135.10" r="1.75" fill="#e2231a"/>
<circle cx="581.75" cy="134.60" r="1.75" fill="#e2231a"/>
<circle cx="586.49" cy="133.99" r="1.75" fill="#e2231a"/>
<circle cx="591.23" cy="133.51" r="1.75" fill="#e2231a"/>
<circle cx="595.96" cy="133.34" r="1.75" fill="#e2231a"/>
<circle cx="600.70" cy="133.17" r="1.75" fill="#e2231a"/>
<circle cx="605.44" cy="133.01" r="1.75" fill="#e2231a"/>
<circle cx="610.17" cy="132.84" r="1.75" fill="#e2231a"/>
<circle cx="614.91" cy="132.80" r="1.75" fill="#e2231a"/>
<circle cx="619.65" cy="132.80" r="1.75" fill="#e2231a"/>
<circle cx="624.38" cy="132.80" r="1.75" fill="#e2231a"/>
<circle cx="629.12" cy="132.80" r="1.75" fill="#e2231a"/>
<circle cx="633.85" cy="132.80" r="1.75" fill="#e2231a"/>
<circle cx="638.59" cy="132.80" r="1.75" fill="#e2231a"/>
<circle cx="643.33" cy="132.80" r="1.75" fill="#e2231a"/>
<circle cx="648.06" cy="132.80" r="1.75" fill="#e2231a"/>
<circle cx="652.80" cy="132.80" r="1.75" fill="#e2231a"/>
<text x="20.20" y="244.20" font-family='"Liberation Sans", sans-serif' font-size="14" text-anchor="middle" fill="#222" >C</text>
<line x1="34.00" y1="224.00" x2="34.00" y2="388.40" stroke="#7a7a7a" stroke-width="1.2" />
<line x1="33.40" y1="388.40" x2="339.00" y2="388.40" stroke="#7a7a7a" stroke-width="1.2" />
<line x1="43.40" y1="388.40" x2="43.40" y2="390.20" stroke="#7a7a7a" stroke-width="0.8" />
<line x1="131.40" y1="388.40" x2="131.40" y2="390.20" stroke="#7a7a7a" stroke-width="0.8" />
<line x1="219.50" y1="388.40" x2="219.50" y2="390.20" stroke="#7a7a7a" stroke-width="0.8" />
<line x1="307.40" y1="388.40" x2="307.40" y2="390.20" stroke="#7a7a7a" stroke-width="0.8" />
<line x1="32.20" y1="234.00" x2="34.00" y2="234.00" stroke="#555" stroke-width="0.9" />
<text x="31.40" y="235.70" font-family='"Liberation Serif", serif' font-size="5" text-anchor="end" fill="#444"  stroke="#444" stroke-width="0.18" stroke-linejoin="round">6</text>
<line x1="32.20" y1="275.30" x2="34.00" y2="275.30" stroke="#555" stroke-width="0.9" />
<text x="31.40" y="277.00" font-family='"Liberation Serif", serif' font-size="5" text-anchor="end" fill="#444"  stroke="#444" stroke-width="0.18" stroke-linejoin="round">5</text>
<line x1="32.20" y1="317.20" x2="34.00" y2="317.20" stroke="#555" stroke-width="0.9" />
<text x="31.40" y="318.90" font-family='"Liberation Serif", serif' font-size="5" text-anchor="end" fill="#444"  stroke="#444" stroke-width="0.18" stroke-linejoin="round">4</text>
<line x1="32.20" y1="358.20" x2="34.00" y2="358.20" stroke="#555" stroke-width="0.9" />
<text x="31.40" y="359.90" font-family='"Liberation Serif", serif' font-size="5" text-anchor="end" fill="#444"  stroke="#444" stroke-width="0.18" stroke-linejoin="round">3</text>
<text x="6.30" y="306.00" font-family='"Liberation Serif", serif' font-size="6.8" text-anchor="middle" fill="#333" transform="rotate(-90 6.30 306.00)" font-weight="bold" stroke="#333" stroke-width="0.18" stroke-linejoin="round">Riskscore</text>
<text x="36.80" y="232.20" font-family='"Liberation Serif", serif' font-size="5.3" text-anchor="start" fill="#222"  stroke="#222" stroke-width="0.18" stroke-linejoin="round">RiskType</text>
<circle cx="41.40" cy="240.80" r="1.6" fill="#c33a2c"/>
<text x="49.00" y="242.60" font-family='"Liberation Serif", serif' font-size="5.3" text-anchor="start" fill="#222"  stroke="#222" stroke-width="0.18" stroke-linejoin="round">High_risk</text>
<circle cx="41.40" cy="250.90" r="1.6" fill="#2f77bd"/>
<text x="49.00" y="252.70" font-family='"Liberation Serif", serif' font-size="5.3" text-anchor="start" fill="#222"  stroke="#222" stroke-width="0.18" stroke-linejoin="round">Low_risk</text>
<circle cx="47.80" cy="380.50" r="1.8" fill="#2f77bd"/>
<circle cx="52.20" cy="374.30" r="1.8" fill="#2f77bd"/>
<circle cx="56.60" cy="371.80" r="1.8" fill="#2f77bd"/>
<circle cx="61.00" cy="371.80" r="1.8" fill="#2f77bd"/>
<circle cx="65.40" cy="369.80" r="1.8" fill="#2f77bd"/>
<circle cx="69.80" cy="368.00" r="1.8" fill="#2f77bd"/>
<circle cx="74.20" cy="368.00" r="1.8" fill="#2f77bd"/>
<circle cx="78.60" cy="358.20" r="1.8" fill="#2f77bd"/>
<circle cx="83.00" cy="358.20" r="1.8" fill="#2f77bd"/>
<circle cx="87.40" cy="356.40" r="1.8" fill="#2f77bd"/>
<circle cx="91.80" cy="354.00" r="1.8" fill="#2f77bd"/>
<circle cx="96.20" cy="352.70" r="1.8" fill="#2f77bd"/>
<circle cx="100.60" cy="348.70" r="1.8" fill="#2f77bd"/>
<circle cx="105.00" cy="348.70" r="1.8" fill="#2f77bd"/>
<circle cx="109.40" cy="347.70" r="1.8" fill="#2f77bd"/>
<circle cx="113.80" cy="344.50" r="1.8" fill="#2f77bd"/>
<circle cx="118.20" cy="339.00" r="1.8" fill="#2f77bd"/>
<circle cx="122.60" cy="337.80" r="1.8" fill="#2f77bd"/>
<circle cx="127.00" cy="336.60" r="1.8" fill="#2f77bd"/>
<circle cx="131.40" cy="336.60" r="1.8" fill="#2f77bd"/>
<circle cx="135.80" cy="333.30" r="1.8" fill="#2f77bd"/>
<circle cx="140.20" cy="333.30" r="1.8" fill="#2f77bd"/>
<circle cx="144.60" cy="330.00" r="1.8" fill="#2f77bd"/>
<circle cx="149.00" cy="329.60" r="1.8" fill="#2f77bd"/>
<circle cx="153.40" cy="329.10" r="1.8" fill="#2f77bd"/>
<circle cx="157.80" cy="327.60" r="1.8" fill="#2f77bd"/>
<circle cx="162.20" cy="327.00" r="1.8" fill="#2f77bd"/>
<circle cx="166.60" cy="325.80" r="1.8" fill="#2f77bd"/>
<circle cx="171.00" cy="325.10" r="1.8" fill="#2f77bd"/>
<circle cx="175.40" cy="324.10" r="1.8" fill="#2f77bd"/>
<circle cx="179.80" cy="323.80" r="1.8" fill="#2f77bd"/>
<circle cx="184.20" cy="323.80" r="1.8" fill="#2f77bd"/>
<circle cx="188.60" cy="323.60" r="1.8" fill="#c33a2c"/>
<circle cx="193.00" cy="320.50" r="1.8" fill="#c33a2c"/>
<circle cx="197.40" cy="318.00" r="1.8" fill="#c33a2c"/>
<circle cx="201.80" cy="312.60" r="1.8" fill="#c33a2c"/>
<circle cx="206.20" cy="309.00" r="1.8" fill="#c33a2c"/>
<circle cx="210.60" cy="308.50" r="1.8" fill="#c33a2c"/>
<circle cx="215.00" cy="305.00" r="1.8" fill="#c33a2c"/>
<circle cx="219.40" cy="304.20" r="1.8" fill="#c33a2c"/>
<circle cx="223.80" cy="303.70" r="1.8" fill="#c33a2c"/>
<circle cx="228.20" cy="303.10" r="1.8" fill="#c33a2c"/>
<circle cx="232.60" cy="303.10" r="1.8" fill="#c33a2c"/>
<circle cx="237.00" cy="299.30" r="1.8" fill="#c33a2c"/>
<circle cx="241.40" cy="294.70" r="1.8" fill="#c33a2c"/>
<circle cx="245.80" cy="294.50" r="1.8" fill="#c33a2c"/>
<circle cx="250.20" cy="294.50" r="1.8" fill="#c33a2c"/>
<circle cx="254.60" cy="292.20" r="1.8" fill="#c33a2c"/>
<circle cx="259.00" cy="291.40" r="1.8" fill="#c33a2c"/>
<circle cx="263.40" cy="290.60" r="1.8" fill="#c33a2c"/>
<circle cx="267.80" cy="290.10" r="1.8" fill="#c33a2c"/>
<circle cx="272.20" cy="287.80" r="1.8" fill="#c33a2c"/>
<circle cx="276.60" cy="287.80" r="1.8" fill="#c33a2c"/>
<circle cx="281.00" cy="279.60" r="1.8" fill="#c33a2c"/>
<circle cx="285.40" cy="279.40" r="1.8" fill="#c33a2c"/>
<circle cx="289.80" cy="277.90" r="1.8" fill="#c33a2c"/>
<circle cx="294.20" cy="276.30" r="1.8" fill="#c33a2c"/>
<circle cx="298.60" cy="275.80" r="1.8" fill="#c33a2c"/>
<circle cx="303.00" cy="275.60" r="1.8" fill="#c33a2c"/>
<circle cx="307.40" cy="275.30" r="1.8" fill="#c33a2c"/>
<circle cx="311.80" cy="269.40" r="1.8" fill="#c33a2c"/>
<circle cx="316.20" cy="255.40" r="1.8" fill="#c33a2c"/>
<circle cx="320.60" cy="232.10" r="1.8" fill="#c33a2c"/>
<circle cx="325.00" cy="231.60" r="1.8" fill="#c33a2c"/>
<line x1="34.00" y1="390.00" x2="34.00" y2="558.20" stroke="#7a7a7a" stroke-width="1.2" />
<line x1="33.40" y1="558.20" x2="339.00" y2="558.20" stroke="#7a7a7a" stroke-width="1.2" />
<line x1="43.40" y1="558.20" x2="43.40" y2="560.00" stroke="#7a7a7a" stroke-width="0.8" />
<line x1="131.40" y1="558.20" x2="131.40" y2="560.00" stroke="#7a7a7a" stroke-width="0.8" />
<line x1="219.50" y1="558.20" x2="219.50" y2="560.00" stroke="#7a7a7a" stroke-width="0.8" />
<line x1="307.40" y1="558.20" x2="307.40" y2="560.00" stroke="#7a7a7a" stroke-width="0.8" />
<line x1="32.20" y1="400.40" x2="34.00" y2="400.40" stroke="#555" stroke-width="0.9" />
<text x="31.40" y="402.10" font-family='"Liberation Serif", serif' font-size="5" text-anchor="end" fill="#444"  stroke="#444" stroke-width="0.18" stroke-linejoin="round">20</text>
<line x1="32.20" y1="439.00" x2="34.00" y2="439.00" stroke="#555" stroke-width="0.9" />
<text x="31.40" y="440.70" font-family='"Liberation Serif", serif' font-size="5" text-anchor="end" fill="#444"  stroke="#444" stroke-width="0.18" stroke-linejoin="round">15</text>
<line x1="32.20" y1="477.80" x2="34.00" y2="477.80" stroke="#555" stroke-width="0.9" />
<text x="31.40" y="479.50" font-family='"Liberation Serif", serif' font-size="5" text-anchor="end" fill="#444"  stroke="#444" stroke-width="0.18" stroke-linejoin="round">10</text>
<line x1="32.20" y1="516.50" x2="34.00" y2="516.50" stroke="#555" stroke-width="0.9" />
<text x="31.40" y="518.20" font-family='"Liberation Serif", serif' font-size="5" text-anchor="end" fill="#444"  stroke="#444" stroke-width="0.18" stroke-linejoin="round">5</text>
<line x1="32.20" y1="555.20" x2="34.00" y2="555.20" stroke="#555" stroke-width="0.9" />
<text x="31.40" y="556.90" font-family='"Liberation Serif", serif' font-size="5" text-anchor="end" fill="#444"  stroke="#444" stroke-width="0.18" stroke-linejoin="round">0</text>
<text x="6.30" y="473.80" font-family='"Liberation Serif", serif' font-size="6.8" text-anchor="middle" fill="#333" transform="rotate(-90 6.30 473.80)" font-weight="bold" stroke="#333" stroke-width="0.18" stroke-linejoin="round">Time</text>
<text x="312.00" y="397.60" font-family='"Liberation Serif", serif' font-size="5.3" text-anchor="start" fill="#222"  stroke="#222" stroke-width="0.18" stroke-linejoin="round">Status</text>
<circle cx="316.90" cy="406.50" r="1.6" fill="#c33a2c"/>
<text x="324.50" y="408.30" font-family='"Liberation Serif", serif' font-size="5.3" text-anchor="start" fill="#222"  stroke="#222" stroke-width="0.18" stroke-linejoin="round">Alive</text>
<circle cx="316.90" cy="416.70" r="1.6" fill="#2f77bd"/>
<text x="324.50" y="418.50" font-family='"Liberation Serif", serif' font-size="5.3" text-anchor="start" fill="#222"  stroke="#222" stroke-width="0.18" stroke-linejoin="round">Dead</text>
<circle cx="47.80" cy="521.00" r="1.8" fill="#c33a2c"/>
<circle cx="52.20" cy="541.30" r="1.8" fill="#c33a2c"/>
<circle cx="56.60" cy="529.00" r="1.8" fill="#c33a2c"/>
<circle cx="61.00" cy="486.00" r="1.8" fill="#2f77bd"/>
<circle cx="65.40" cy="538.40" r="1.8" fill="#2f77bd"/>
<circle cx="69.80" cy="469.40" r="1.8" fill="#c33a2c"/>
<circle cx="74.20" cy="542.00" r="1.8" fill="#c33a2c"/>
<circle cx="78.60" cy="397.40" r="1.8" fill="#2f77bd"/>
<circle cx="83.00" cy="501.10" r="1.8" fill="#2f77bd"/>
<circle cx="87.40" cy="489.00" r="1.8" fill="#2f77bd"/>
<circle cx="91.80" cy="497.70" r="1.8" fill="#c33a2c"/>
<circle cx="96.20" cy="505.30" r="1.8" fill="#c33a2c"/>
<circle cx="100.60" cy="471.80" r="1.8" fill="#2f77bd"/>
<circle cx="105.00" cy="547.00" r="1.8" fill="#2f77bd"/>
<circle cx="109.40" cy="415.50" r="1.8" fill="#2f77bd"/>
<circle cx="113.80" cy="515.30" r="1.8" fill="#2f77bd"/>
<circle cx="118.20" cy="537.10" r="1.8" fill="#c33a2c"/>
<circle cx="122.60" cy="520.20" r="1.8" fill="#2f77bd"/>
<circle cx="127.00" cy="528.40" r="1.8" fill="#c33a2c"/>
<circle cx="131.40" cy="532.90" r="1.8" fill="#2f77bd"/>
<circle cx="135.80" cy="500.60" r="1.8" fill="#2f77bd"/>
<circle cx="140.20" cy="525.40" r="1.8" fill="#2f77bd"/>
<circle cx="144.60" cy="516.80" r="1.8" fill="#2f77bd"/>
<circle cx="149.00" cy="514.80" r="1.8" fill="#2f77bd"/>
<circle cx="153.40" cy="532.40" r="1.8" fill="#2f77bd"/>
<circle cx="157.80" cy="543.00" r="1.8" fill="#c33a2c"/>
<circle cx="162.20" cy="481.80" r="1.8" fill="#2f77bd"/>
<circle cx="166.60" cy="539.70" r="1.8" fill="#c33a2c"/>
<circle cx="171.00" cy="543.20" r="1.8" fill="#2f77bd"/>
<circle cx="175.40" cy="510.20" r="1.8" fill="#c33a2c"/>
<circle cx="179.80" cy="535.70" r="1.8" fill="#c33a2c"/>
<circle cx="184.20" cy="499.50" r="1.8" fill="#2f77bd"/>
<circle cx="188.60" cy="529.60" r="1.8" fill="#c33a2c"/>
<circle cx="193.00" cy="493.60" r="1.8" fill="#2f77bd"/>
<circle cx="197.40" cy="527.80" r="1.8" fill="#c33a2c"/>
<circle cx="201.80" cy="505.10" r="1.8" fill="#2f77bd"/>
<circle cx="206.20" cy="527.60" r="1.8" fill="#c33a2c"/>
<circle cx="210.60" cy="513.00" r="1.8" fill="#2f77bd"/>
<circle cx="215.00" cy="537.80" r="1.8" fill="#2f77bd"/>
<circle cx="219.40" cy="543.10" r="1.8" fill="#2f77bd"/>
<circle cx="223.80" cy="541.60" r="1.8" fill="#2f77bd"/>
<circle cx="228.20" cy="546.50" r="1.8" fill="#c33a2c"/>
<circle cx="232.60" cy="510.70" r="1.8" fill="#2f77bd"/>
<circle cx="237.00" cy="542.10" r="1.8" fill="#2f77bd"/>
<circle cx="241.40" cy="549.50" r="1.8" fill="#c33a2c"/>
<circle cx="245.80" cy="530.90" r="1.8" fill="#2f77bd"/>
<circle cx="250.20" cy="519.10" r="1.8" fill="#2f77bd"/>
<circle cx="254.60" cy="550.60" r="1.8" fill="#2f77bd"/>
<circle cx="259.00" cy="543.70" r="1.8" fill="#2f77bd"/>
<circle cx="263.40" cy="537.00" r="1.8" fill="#2f77bd"/>
<circle cx="267.80" cy="533.20" r="1.8" fill="#2f77bd"/>
<circle cx="272.20" cy="534.20" r="1.8" fill="#2f77bd"/>
<circle cx="276.60" cy="543.70" r="1.8" fill="#2f77bd"/>
<circle cx="281.00" cy="536.00" r="1.8" fill="#2f77bd"/>
<circle cx="285.40" cy="532.20" r="1.8" fill="#2f77bd"/>
<circle cx="289.80" cy="550.00" r="1.8" fill="#2f77bd"/>
<circle cx="294.20" cy="536.50" r="1.8" fill="#2f77bd"/>
<circle cx="298.60" cy="543.20" r="1.8" fill="#2f77bd"/>
<circle cx="303.00" cy="540.90" r="1.8" fill="#2f77bd"/>
<circle cx="307.40" cy="542.10" r="1.8" fill="#2f77bd"/>
<circle cx="311.80" cy="543.40" r="1.8" fill="#2f77bd"/>
<circle cx="316.20" cy="536.00" r="1.8" fill="#2f77bd"/>
<circle cx="320.60" cy="548.50" r="1.8" fill="#2f77bd"/>
<circle cx="325.00" cy="545.70" r="1.8" fill="#2f77bd"/>
<line x1="34.00" y1="560.00" x2="34.00" y2="691.70" stroke="#7a7a7a" stroke-width="1.2" />
<line x1="33.40" y1="691.70" x2="339.00" y2="691.70" stroke="#7a7a7a" stroke-width="1.2" />
<line x1="45.50" y1="691.70" x2="45.50" y2="693.50" stroke="#7a7a7a" stroke-width="0.8" />
<line x1="132.20" y1="691.70" x2="132.20" y2="693.50" stroke="#7a7a7a" stroke-width="0.8" />
<line x1="219.60" y1="691.70" x2="219.60" y2="693.50" stroke="#7a7a7a" stroke-width="0.8" />
<line x1="305.50" y1="691.70" x2="305.50" y2="693.50" stroke="#7a7a7a" stroke-width="0.8" />
<g shape-rendering="crispEdges">
<rect x="48" y="561" width="4" height="12" fill="#5844a8"/>
<rect x="52" y="561" width="4" height="12" fill="#b0a4d4"/>
<rect x="56" y="561" width="5" height="12" fill="#f0cdc7"/>
<rect x="61" y="561" width="4" height="12" fill="#efc5bd"/>
<rect x="65" y="561" width="4" height="12" fill="#e69a8f"/>
<rect x="69" y="561" width="5" height="12" fill="#f7ecea"/>
<rect x="74" y="561" width="4" height="12" fill="#fcfafa"/>
<rect x="78" y="561" width="4" height="12" fill="#fcfafa"/>
<rect x="82" y="561" width="5" height="12" fill="#f2d6d0"/>
<rect x="87" y="561" width="4" height="12" fill="#f4ddd9"/>
<rect x="91" y="561" width="4" height="12" fill="#fbf6f6"/>
<rect x="95" y="561" width="5" height="12" fill="#f7ecea"/>
<rect x="100" y="561" width="4" height="12" fill="#f5e5e1"/>
<rect x="104" y="561" width="4" height="12" fill="#e7e4f3"/>
<rect x="108" y="561" width="5" height="12" fill="#8674c0"/>
<rect x="113" y="561" width="4" height="12" fill="#f7ecea"/>
<rect x="117" y="561" width="4" height="12" fill="#e7e4f3"/>
<rect x="121" y="561" width="5" height="12" fill="#dd665a"/>
<rect x="126" y="561" width="4" height="12" fill="#df7064"/>
<rect x="130" y="561" width="4" height="12" fill="#e69a8f"/>
<rect x="134" y="561" width="5" height="12" fill="#503ca2"/>
<rect x="139" y="561" width="4" height="12" fill="#ecb5ac"/>
<rect x="143" y="561" width="4" height="12" fill="#b0a4d4"/>
<rect x="147" y="561" width="5" height="12" fill="#fcfafa"/>
<rect x="152" y="561" width="4" height="12" fill="#8d7cc3"/>
<rect x="156" y="561" width="4" height="12" fill="#e69a8f"/>
<rect x="160" y="561" width="5" height="12" fill="#f4ddd9"/>
<rect x="165" y="561" width="4" height="12" fill="#ecb5ac"/>
<rect x="169" y="561" width="4" height="12" fill="#dc5c50"/>
<rect x="173" y="561" width="5" height="12" fill="#d8d2eb"/>
<rect x="178" y="561" width="4" height="12" fill="#a394cc"/>
<rect x="182" y="561" width="4" height="12" fill="#f7ecea"/>
<rect x="186" y="561" width="5" height="12" fill="#fcfafa"/>
<rect x="191" y="561" width="4" height="12" fill="#eae9f4"/>
<rect x="195" y="561" width="4" height="12" fill="#f5e5e1"/>
<rect x="199" y="561" width="5" height="12" fill="#faf3f2"/>
<rect x="204" y="561" width="4" height="12" fill="#b0a4d4"/>
<rect x="208" y="561" width="4" height="12" fill="#eeedf6"/>
<rect x="212" y="561" width="5" height="12" fill="#f2d6d0"/>
<rect x="217" y="561" width="4" height="12" fill="#9584c5"/>
<rect x="221" y="561" width="4" height="12" fill="#e3877b"/>
<rect x="225" y="561" width="5" height="12" fill="#a394cc"/>
<rect x="230" y="561" width="4" height="12" fill="#f7ecea"/>
<rect x="234" y="561" width="4" height="12" fill="#faf3f2"/>
<rect x="238" y="561" width="5" height="12" fill="#d8d2eb"/>
<rect x="243" y="561" width="4" height="12" fill="#9584c5"/>
<rect x="247" y="561" width="4" height="12" fill="#eeedf6"/>
<rect x="251" y="561" width="5" height="12" fill="#eae9f4"/>
<rect x="256" y="561" width="4" height="12" fill="#e7e4f3"/>
<rect x="260" y="561" width="4" height="12" fill="#eeedf6"/>
<rect x="264" y="561" width="5" height="12" fill="#fbf6f6"/>
<rect x="269" y="561" width="4" height="12" fill="#faf3f2"/>
<rect x="273" y="561" width="4" height="12" fill="#5844a8"/>
<rect x="277" y="561" width="5" height="12" fill="#efc5bd"/>
<rect x="282" y="561" width="4" height="12" fill="#eaada4"/>
<rect x="286" y="561" width="4" height="12" fill="#d8d2eb"/>
<rect x="290" y="561" width="5" height="12" fill="#bbb0da"/>
<rect x="295" y="561" width="4" height="12" fill="#e7e4f3"/>
<rect x="299" y="561" width="4" height="12" fill="#edbcb4"/>
<rect x="303" y="561" width="5" height="12" fill="#f0cdc7"/>
<rect x="308" y="561" width="4" height="12" fill="#f2d6d0"/>
<rect x="312" y="561" width="4" height="12" fill="#d0c8e6"/>
<rect x="316" y="561" width="5" height="12" fill="#bbb0da"/>
<rect x="321" y="561" width="4" height="12" fill="#6451b0"/>
<rect x="48" y="573" width="4" height="11" fill="#8d7cc3"/>
<rect x="52" y="573" width="4" height="11" fill="#ecb5ac"/>
<rect x="56" y="573" width="5" height="11" fill="#eaada4"/>
<rect x="61" y="573" width="4" height="11" fill="#e3877b"/>
<rect x="65" y="573" width="4" height="11" fill="#e3877b"/>
<rect x="69" y="573" width="5" height="11" fill="#eaada4"/>
<rect x="74" y="573" width="4" height="11" fill="#eaada4"/>
<rect x="78" y="573" width="4" height="11" fill="#ecb5ac"/>
<rect x="82" y="573" width="5" height="11" fill="#dd665a"/>
<rect x="87" y="573" width="4" height="11" fill="#f7ecea"/>
<rect x="91" y="573" width="4" height="11" fill="#e7e4f3"/>
<rect x="95" y="573" width="5" height="11" fill="#fcfafa"/>
<rect x="100" y="573" width="4" height="11" fill="#fbf6f6"/>
<rect x="104" y="573" width="4" height="11" fill="#e0dcf0"/>
<rect x="108" y="573" width="5" height="11" fill="#8d7cc3"/>
<rect x="113" y="573" width="4" height="11" fill="#edbcb4"/>
<rect x="117" y="573" width="4" height="11" fill="#eae9f4"/>
<rect x="121" y="573" width="5" height="11" fill="#e48e82"/>
<rect x="126" y="573" width="4" height="11" fill="#f0cdc7"/>
<rect x="130" y="573" width="4" height="11" fill="#eaada4"/>
<rect x="134" y="573" width="5" height="11" fill="#503ca2"/>
<rect x="139" y="573" width="4" height="11" fill="#ecb5ac"/>
<rect x="143" y="573" width="4" height="11" fill="#e4e0f2"/>
<rect x="147" y="573" width="5" height="11" fill="#e4e0f2"/>
<rect x="152" y="573" width="4" height="11" fill="#f7ecea"/>
<rect x="156" y="573" width="4" height="11" fill="#f7ecea"/>
<rect x="160" y="573" width="5" height="11" fill="#f5e5e1"/>
<rect x="165" y="573" width="4" height="11" fill="#f4ddd9"/>
<rect x="169" y="573" width="4" height="11" fill="#fcfafa"/>
<rect x="173" y="573" width="5" height="11" fill="#f2d6d0"/>
<rect x="178" y="573" width="4" height="11" fill="#fcfafa"/>
<rect x="182" y="573" width="4" height="11" fill="#fbf6f6"/>
<rect x="186" y="573" width="5" height="11" fill="#eae9f4"/>
<rect x="191" y="573" width="4" height="11" fill="#e4e0f2"/>
<rect x="195" y="573" width="4" height="11" fill="#f4ddd9"/>
<rect x="199" y="573" width="5" height="11" fill="#f4ddd9"/>
<rect x="204" y="573" width="4" height="11" fill="#ecb5ac"/>
<rect x="208" y="573" width="4" height="11" fill="#e0dcf0"/>
<rect x="212" y="573" width="5" height="11" fill="#fbf6f6"/>
<rect x="217" y="573" width="4" height="11" fill="#eaada4"/>
<rect x="221" y="573" width="4" height="11" fill="#e0dcf0"/>
<rect x="225" y="573" width="5" height="11" fill="#e0dcf0"/>
<rect x="230" y="573" width="4" height="11" fill="#edbcb4"/>
<rect x="234" y="573" width="4" height="11" fill="#e7e4f3"/>
<rect x="238" y="573" width="5" height="11" fill="#fcfafa"/>
<rect x="243" y="573" width="4" height="11" fill="#9584c5"/>
<rect x="247" y="573" width="4" height="11" fill="#fcfafa"/>
<rect x="251" y="573" width="5" height="11" fill="#b0a4d4"/>
<rect x="256" y="573" width="4" height="11" fill="#dcd7ee"/>
<rect x="260" y="573" width="4" height="11" fill="#f8f0ee"/>
<rect x="264" y="573" width="5" height="11" fill="#bbb0da"/>
<rect x="269" y="573" width="4" height="11" fill="#e9a69c"/>
<rect x="273" y="573" width="4" height="11" fill="#8674c0"/>
<rect x="277" y="573" width="5" height="11" fill="#8674c0"/>
<rect x="282" y="573" width="4" height="11" fill="#e7e4f3"/>
<rect x="286" y="573" width="4" height="11" fill="#faf3f2"/>
<rect x="290" y="573" width="5" height="11" fill="#b0a4d4"/>
<rect x="295" y="573" width="4" height="11" fill="#c5bce0"/>
<rect x="299" y="573" width="4" height="11" fill="#dcd7ee"/>
<rect x="303" y="573" width="5" height="11" fill="#dcd7ee"/>
<rect x="308" y="573" width="4" height="11" fill="#d8d2eb"/>
<rect x="312" y="573" width="4" height="11" fill="#8674c0"/>
<rect x="316" y="573" width="5" height="11" fill="#9584c5"/>
<rect x="321" y="573" width="4" height="11" fill="#2e3080"/>
<rect x="48" y="584" width="4" height="12" fill="#8674c0"/>
<rect x="52" y="584" width="4" height="12" fill="#e0dcf0"/>
<rect x="56" y="584" width="5" height="12" fill="#fcfafa"/>
<rect x="61" y="584" width="4" height="12" fill="#eaada4"/>
<rect x="65" y="584" width="4" height="12" fill="#f7ecea"/>
<rect x="69" y="584" width="5" height="12" fill="#e3877b"/>
<rect x="74" y="584" width="4" height="12" fill="#3a329a"/>
<rect x="78" y="584" width="4" height="12" fill="#a394cc"/>
<rect x="82" y="584" width="5" height="12" fill="#9584c5"/>
<rect x="87" y="584" width="4" height="12" fill="#f7ecea"/>
<rect x="91" y="584" width="4" height="12" fill="#d8d2eb"/>
<rect x="95" y="584" width="5" height="12" fill="#f5e5e1"/>
<rect x="100" y="584" width="4" height="12" fill="#e7e4f3"/>
<rect x="104" y="584" width="4" height="12" fill="#f0cdc7"/>
<rect x="108" y="584" width="5" height="12" fill="#f5e5e1"/>
<rect x="113" y="584" width="4" height="12" fill="#faf3f2"/>
<rect x="117" y="584" width="4" height="12" fill="#e48e82"/>
<rect x="121" y="584" width="5" height="12" fill="#fcfafa"/>
<rect x="126" y="584" width="4" height="12" fill="#d8d2eb"/>
<rect x="130" y="584" width="4" height="12" fill="#9c8cc8"/>
<rect x="134" y="584" width="5" height="12" fill="#503ca2"/>
<rect x="139" y="584" width="4" height="12" fill="#fcfafa"/>
<rect x="143" y="584" width="4" height="12" fill="#e9a69c"/>
<rect x="147" y="584" width="5" height="12" fill="#e9a69c"/>
<rect x="152" y="584" width="4" height="12" fill="#a394cc"/>
<rect x="156" y="584" width="4" height="12" fill="#8d7cc3"/>
<rect x="160" y="584" width="5" height="12" fill="#e7e4f3"/>
<rect x="165" y="584" width="4" height="12" fill="#e7e4f3"/>
<rect x="169" y="584" width="4" height="12" fill="#c5bce0"/>
<rect x="173" y="584" width="5" height="12" fill="#c5bce0"/>
<rect x="178" y="584" width="4" height="12" fill="#eae9f4"/>
<rect x="182" y="584" width="4" height="12" fill="#f2d6d0"/>
<rect x="186" y="584" width="5" height="12" fill="#dcd7ee"/>
<rect x="191" y="584" width="4" height="12" fill="#fcfafa"/>
<rect x="195" y="584" width="4" height="12" fill="#bbb0da"/>
<rect x="199" y="584" width="5" height="12" fill="#e0dcf0"/>
<rect x="204" y="584" width="4" height="12" fill="#eae9f4"/>
<rect x="208" y="584" width="4" height="12" fill="#e0dcf0"/>
<rect x="212" y="584" width="5" height="12" fill="#eaada4"/>
<rect x="217" y="584" width="4" height="12" fill="#fcfafa"/>
<rect x="221" y="584" width="4" height="12" fill="#c5bce0"/>
<rect x="225" y="584" width="5" height="12" fill="#f7ecea"/>
<rect x="230" y="584" width="4" height="12" fill="#d8d2eb"/>
<rect x="234" y="584" width="4" height="12" fill="#fcfafa"/>
<rect x="238" y="584" width="5" height="12" fill="#dc5c50"/>
<rect x="243" y="584" width="4" height="12" fill="#f2d6d0"/>
<rect x="247" y="584" width="4" height="12" fill="#e0dcf0"/>
<rect x="251" y="584" width="5" height="12" fill="#f5e5e1"/>
<rect x="256" y="584" width="4" height="12" fill="#eae9f4"/>
<rect x="260" y="584" width="4" height="12" fill="#eae9f4"/>
<rect x="264" y="584" width="5" height="12" fill="#dd665a"/>
<rect x="269" y="584" width="4" height="12" fill="#f5e5e1"/>
<rect x="273" y="584" width="4" height="12" fill="#d4cde8"/>
<rect x="277" y="584" width="5" height="12" fill="#eaada4"/>
<rect x="282" y="584" width="4" height="12" fill="#e18175"/>
<rect x="286" y="584" width="4" height="12" fill="#f8f0ee"/>
<rect x="290" y="584" width="5" height="12" fill="#fcfafa"/>
<rect x="295" y="584" width="4" height="12" fill="#eeedf6"/>
<rect x="299" y="584" width="4" height="12" fill="#fbf6f6"/>
<rect x="303" y="584" width="5" height="12" fill="#8d7cc3"/>
<rect x="308" y="584" width="4" height="12" fill="#edbcb4"/>
<rect x="312" y="584" width="4" height="12" fill="#f0cdc7"/>
<rect x="316" y="584" width="5" height="12" fill="#f2d6d0"/>
<rect x="321" y="584" width="4" height="12" fill="#e18175"/>
<rect x="48" y="596" width="4" height="12" fill="#9c8cc8"/>
<rect x="52" y="596" width="4" height="12" fill="#eaada4"/>
<rect x="56" y="596" width="5" height="12" fill="#e48e82"/>
<rect x="61" y="596" width="4" height="12" fill="#e9a69c"/>
<rect x="65" y="596" width="4" height="12" fill="#f0cdc7"/>
<rect x="69" y="596" width="5" height="12" fill="#edbcb4"/>
<rect x="74" y="596" width="4" height="12" fill="#d8d2eb"/>
<rect x="78" y="596" width="4" height="12" fill="#ecb5ac"/>
<rect x="82" y="596" width="5" height="12" fill="#e48e82"/>
<rect x="87" y="596" width="4" height="12" fill="#e48e82"/>
<rect x="91" y="596" width="4" height="12" fill="#eaada4"/>
<rect x="95" y="596" width="5" height="12" fill="#fbf6f6"/>
<rect x="100" y="596" width="4" height="12" fill="#faf3f2"/>
<rect x="104" y="596" width="4" height="12" fill="#faf3f2"/>
<rect x="108" y="596" width="5" height="12" fill="#b0a4d4"/>
<rect x="113" y="596" width="4" height="12" fill="#efc5bd"/>
<rect x="117" y="596" width="4" height="12" fill="#ecb5ac"/>
<rect x="121" y="596" width="5" height="12" fill="#df7064"/>
<rect x="126" y="596" width="4" height="12" fill="#f7ecea"/>
<rect x="130" y="596" width="4" height="12" fill="#eaada4"/>
<rect x="134" y="596" width="5" height="12" fill="#503ca2"/>
<rect x="139" y="596" width="4" height="12" fill="#e9a69c"/>
<rect x="143" y="596" width="4" height="12" fill="#d8d2eb"/>
<rect x="147" y="596" width="5" height="12" fill="#f0cdc7"/>
<rect x="152" y="596" width="4" height="12" fill="#fcfafa"/>
<rect x="156" y="596" width="4" height="12" fill="#e9a69c"/>
<rect x="160" y="596" width="5" height="12" fill="#f8f0ee"/>
<rect x="165" y="596" width="4" height="12" fill="#e9a69c"/>
<rect x="169" y="596" width="4" height="12" fill="#f5e5e1"/>
<rect x="173" y="596" width="5" height="12" fill="#fbf6f6"/>
<rect x="178" y="596" width="4" height="12" fill="#faf3f2"/>
<rect x="182" y="596" width="4" height="12" fill="#fcfafa"/>
<rect x="186" y="596" width="5" height="12" fill="#fbf6f6"/>
<rect x="191" y="596" width="4" height="12" fill="#eeedf6"/>
<rect x="195" y="596" width="4" height="12" fill="#f8f0ee"/>
<rect x="199" y="596" width="5" height="12" fill="#9584c5"/>
<rect x="204" y="596" width="4" height="12" fill="#f4ddd9"/>
<rect x="208" y="596" width="4" height="12" fill="#a99cd0"/>
<rect x="212" y="596" width="5" height="12" fill="#fcfafa"/>
<rect x="217" y="596" width="4" height="12" fill="#e7e4f3"/>
<rect x="221" y="596" width="4" height="12" fill="#fcfafa"/>
<rect x="225" y="596" width="5" height="12" fill="#bbb0da"/>
<rect x="230" y="596" width="4" height="12" fill="#bbb0da"/>
<rect x="234" y="596" width="4" height="12" fill="#fbf6f6"/>
<rect x="238" y="596" width="5" height="12" fill="#fbf6f6"/>
<rect x="243" y="596" width="4" height="12" fill="#fbf6f6"/>
<rect x="247" y="596" width="4" height="12" fill="#fbf6f6"/>
<rect x="251" y="596" width="5" height="12" fill="#b0a4d4"/>
<rect x="256" y="596" width="4" height="12" fill="#fcfafa"/>
<rect x="260" y="596" width="4" height="12" fill="#e0dcf0"/>
<rect x="264" y="596" width="5" height="12" fill="#e4e0f2"/>
<rect x="269" y="596" width="4" height="12" fill="#fbf6f6"/>
<rect x="273" y="596" width="4" height="12" fill="#6451b0"/>
<rect x="277" y="596" width="5" height="12" fill="#fcfafa"/>
<rect x="282" y="596" width="4" height="12" fill="#f2d6d0"/>
<rect x="286" y="596" width="4" height="12" fill="#dcd7ee"/>
<rect x="290" y="596" width="5" height="12" fill="#c5bce0"/>
<rect x="295" y="596" width="4" height="12" fill="#a99cd0"/>
<rect x="299" y="596" width="4" height="12" fill="#fbf6f6"/>
<rect x="303" y="596" width="5" height="12" fill="#fbf6f6"/>
<rect x="308" y="596" width="4" height="12" fill="#eeedf6"/>
<rect x="312" y="596" width="4" height="12" fill="#6451b0"/>
<rect x="316" y="596" width="5" height="12" fill="#6a58b4"/>
<rect x="321" y="596" width="4" height="12" fill="#3a329a"/>
<rect x="48" y="608" width="4" height="12" fill="#bbb0da"/>
<rect x="52" y="608" width="4" height="12" fill="#faf3f2"/>
<rect x="56" y="608" width="5" height="12" fill="#b0a4d4"/>
<rect x="61" y="608" width="4" height="12" fill="#e0dcf0"/>
<rect x="65" y="608" width="4" height="12" fill="#b0a4d4"/>
<rect x="69" y="608" width="5" height="12" fill="#edbcb4"/>
<rect x="74" y="608" width="4" height="12" fill="#e3877b"/>
<rect x="78" y="608" width="4" height="12" fill="#ecb5ac"/>
<rect x="82" y="608" width="5" height="12" fill="#d8d2eb"/>
<rect x="87" y="608" width="4" height="12" fill="#e0dcf0"/>
<rect x="91" y="608" width="4" height="12" fill="#e9a69c"/>
<rect x="95" y="608" width="5" height="12" fill="#d8d2eb"/>
<rect x="100" y="608" width="4" height="12" fill="#5844a8"/>
<rect x="104" y="608" width="4" height="12" fill="#a394cc"/>
<rect x="108" y="608" width="5" height="12" fill="#e7e4f3"/>
<rect x="113" y="608" width="4" height="12" fill="#ecb5ac"/>
<rect x="117" y="608" width="4" height="12" fill="#9c8cc8"/>
<rect x="121" y="608" width="5" height="12" fill="#fcfafa"/>
<rect x="126" y="608" width="4" height="12" fill="#f4ddd9"/>
<rect x="130" y="608" width="4" height="12" fill="#f7ecea"/>
<rect x="134" y="608" width="5" height="12" fill="#b0a4d4"/>
<rect x="139" y="608" width="4" height="12" fill="#f4ddd9"/>
<rect x="143" y="608" width="4" height="12" fill="#a99cd0"/>
<rect x="147" y="608" width="5" height="12" fill="#f2d6d0"/>
<rect x="152" y="608" width="4" height="12" fill="#faf3f2"/>
<rect x="156" y="608" width="4" height="12" fill="#dd665a"/>
<rect x="160" y="608" width="5" height="12" fill="#f7ecea"/>
<rect x="165" y="608" width="4" height="12" fill="#f7ecea"/>
<rect x="169" y="608" width="4" height="12" fill="#a99cd0"/>
<rect x="173" y="608" width="5" height="12" fill="#f7ecea"/>
<rect x="178" y="608" width="4" height="12" fill="#edbcb4"/>
<rect x="182" y="608" width="4" height="12" fill="#fbf6f6"/>
<rect x="186" y="608" width="5" height="12" fill="#e48e82"/>
<rect x="191" y="608" width="4" height="12" fill="#9c8cc8"/>
<rect x="195" y="608" width="4" height="12" fill="#eae9f4"/>
<rect x="199" y="608" width="5" height="12" fill="#fcfafa"/>
<rect x="204" y="608" width="4" height="12" fill="#e0dcf0"/>
<rect x="208" y="608" width="4" height="12" fill="#8674c0"/>
<rect x="212" y="608" width="5" height="12" fill="#a394cc"/>
<rect x="217" y="608" width="4" height="12" fill="#e0dcf0"/>
<rect x="221" y="608" width="4" height="12" fill="#dc5c50"/>
<rect x="225" y="608" width="5" height="12" fill="#c5bce0"/>
<rect x="230" y="608" width="4" height="12" fill="#e48e82"/>
<rect x="234" y="608" width="4" height="12" fill="#fcfafa"/>
<rect x="238" y="608" width="5" height="12" fill="#f5f4f8"/>
<rect x="243" y="608" width="4" height="12" fill="#fbf6f6"/>
<rect x="247" y="608" width="4" height="12" fill="#b0a4d4"/>
<rect x="251" y="608" width="5" height="12" fill="#fcfafa"/>
<rect x="256" y="608" width="4" height="12" fill="#f5e5e1"/>
<rect x="260" y="608" width="4" height="12" fill="#c5bce0"/>
<rect x="264" y="608" width="5" height="12" fill="#f7ecea"/>
<rect x="269" y="608" width="4" height="12" fill="#f7ecea"/>
<rect x="273" y="608" width="4" height="12" fill="#dcd7ee"/>
<rect x="277" y="608" width="5" height="12" fill="#a394cc"/>
<rect x="282" y="608" width="4" height="12" fill="#e69a8f"/>
<rect x="286" y="608" width="4" height="12" fill="#e7e4f3"/>
<rect x="290" y="608" width="5" height="12" fill="#fbf6f6"/>
<rect x="295" y="608" width="4" height="12" fill="#f2d6d0"/>
<rect x="299" y="608" width="4" height="12" fill="#faf3f2"/>
<rect x="303" y="608" width="5" height="12" fill="#e07a6e"/>
<rect x="308" y="608" width="4" height="12" fill="#e0dcf0"/>
<rect x="312" y="608" width="4" height="12" fill="#a99cd0"/>
<rect x="316" y="608" width="5" height="12" fill="#eae9f4"/>
<rect x="321" y="608" width="4" height="12" fill="#f4ddd9"/>
<rect x="48" y="620" width="4" height="12" fill="#8d7cc3"/>
<rect x="52" y="620" width="4" height="12" fill="#e69a8f"/>
<rect x="56" y="620" width="5" height="12" fill="#ecb5ac"/>
<rect x="61" y="620" width="4" height="12" fill="#f0cdc7"/>
<rect x="65" y="620" width="4" height="12" fill="#fbf6f6"/>
<rect x="69" y="620" width="5" height="12" fill="#d0c8e6"/>
<rect x="74" y="620" width="4" height="12" fill="#d0c8e6"/>
<rect x="78" y="620" width="4" height="12" fill="#fcfafa"/>
<rect x="82" y="620" width="5" height="12" fill="#e48e82"/>
<rect x="87" y="620" width="4" height="12" fill="#eaada4"/>
<rect x="91" y="620" width="4" height="12" fill="#fcfafa"/>
<rect x="95" y="620" width="5" height="12" fill="#fcfafa"/>
<rect x="100" y="620" width="4" height="12" fill="#d0c8e6"/>
<rect x="104" y="620" width="4" height="12" fill="#d0c8e6"/>
<rect x="108" y="620" width="5" height="12" fill="#c5bce0"/>
<rect x="113" y="620" width="4" height="12" fill="#edbcb4"/>
<rect x="117" y="620" width="4" height="12" fill="#fcfafa"/>
<rect x="121" y="620" width="5" height="12" fill="#e9a69c"/>
<rect x="126" y="620" width="4" height="12" fill="#fcfafa"/>
<rect x="130" y="620" width="4" height="12" fill="#dd665a"/>
<rect x="134" y="620" width="5" height="12" fill="#8674c0"/>
<rect x="139" y="620" width="4" height="12" fill="#e18175"/>
<rect x="143" y="620" width="4" height="12" fill="#d8d2eb"/>
<rect x="147" y="620" width="5" height="12" fill="#f4ddd9"/>
<rect x="152" y="620" width="4" height="12" fill="#faf3f2"/>
<rect x="156" y="620" width="4" height="12" fill="#f4ddd9"/>
<rect x="160" y="620" width="5" height="12" fill="#f8f0ee"/>
<rect x="165" y="620" width="4" height="12" fill="#e69a8f"/>
<rect x="169" y="620" width="4" height="12" fill="#f0cdc7"/>
<rect x="173" y="620" width="5" height="12" fill="#fcfafa"/>
<rect x="178" y="620" width="4" height="12" fill="#f4ddd9"/>
<rect x="182" y="620" width="4" height="12" fill="#faf3f2"/>
<rect x="186" y="620" width="5" height="12" fill="#faf3f2"/>
<rect x="191" y="620" width="4" height="12" fill="#faf3f2"/>
<rect x="195" y="620" width="4" height="12" fill="#f2d6d0"/>
<rect x="199" y="620" width="5" height="12" fill="#b0a4d4"/>
<rect x="204" y="620" width="4" height="12" fill="#c5bce0"/>
<rect x="208" y="620" width="4" height="12" fill="#b0a4d4"/>
<rect x="212" y="620" width="5" height="12" fill="#fbf6f6"/>
<rect x="217" y="620" width="4" height="12" fill="#fcfafa"/>
<rect x="221" y="620" width="4" height="12" fill="#f8f0ee"/>
<rect x="225" y="620" width="5" height="12" fill="#dcd7ee"/>
<rect x="230" y="620" width="4" height="12" fill="#f4e1dd"/>
<rect x="234" y="620" width="4" height="12" fill="#e4e0f2"/>
<rect x="238" y="620" width="5" height="12" fill="#fbf6f6"/>
<rect x="243" y="620" width="4" height="12" fill="#e0dcf0"/>
<rect x="247" y="620" width="4" height="12" fill="#e9a69c"/>
<rect x="251" y="620" width="5" height="12" fill="#a99cd0"/>
<rect x="256" y="620" width="4" height="12" fill="#f4ddd9"/>
<rect x="260" y="620" width="4" height="12" fill="#f7ecea"/>
<rect x="264" y="620" width="5" height="12" fill="#a394cc"/>
<rect x="269" y="620" width="4" height="12" fill="#f4ddd9"/>
<rect x="273" y="620" width="4" height="12" fill="#a99cd0"/>
<rect x="277" y="620" width="5" height="12" fill="#eae9f4"/>
<rect x="282" y="620" width="4" height="12" fill="#fcfafa"/>
<rect x="286" y="620" width="4" height="12" fill="#eeedf6"/>
<rect x="290" y="620" width="5" height="12" fill="#eae9f4"/>
<rect x="295" y="620" width="4" height="12" fill="#9584c5"/>
<rect x="299" y="620" width="4" height="12" fill="#f8f0ee"/>
<rect x="303" y="620" width="5" height="12" fill="#ecb5ac"/>
<rect x="308" y="620" width="4" height="12" fill="#fcfafa"/>
<rect x="312" y="620" width="4" height="12" fill="#5844a8"/>
<rect x="316" y="620" width="5" height="12" fill="#a394cc"/>
<rect x="321" y="620" width="4" height="12" fill="#2e3080"/>
<rect x="48" y="632" width="4" height="12" fill="#8674c0"/>
<rect x="52" y="632" width="4" height="12" fill="#8674c0"/>
<rect x="56" y="632" width="5" height="12" fill="#a394cc"/>
<rect x="61" y="632" width="4" height="12" fill="#7d6bbc"/>
<rect x="65" y="632" width="4" height="12" fill="#8d7cc3"/>
<rect x="69" y="632" width="5" height="12" fill="#d8d2eb"/>
<rect x="74" y="632" width="4" height="12" fill="#e0dcf0"/>
<rect x="78" y="632" width="4" height="12" fill="#f4ddd9"/>
<rect x="82" y="632" width="5" height="12" fill="#e0dcf0"/>
<rect x="87" y="632" width="4" height="12" fill="#b0a4d4"/>
<rect x="91" y="632" width="4" height="12" fill="#eeedf6"/>
<rect x="95" y="632" width="5" height="12" fill="#9584c5"/>
<rect x="100" y="632" width="4" height="12" fill="#d0c8e6"/>
<rect x="104" y="632" width="4" height="12" fill="#d0c8e6"/>
<rect x="108" y="632" width="5" height="12" fill="#7d6bbc"/>
<rect x="113" y="632" width="4" height="12" fill="#d8d2eb"/>
<rect x="117" y="632" width="4" height="12" fill="#d0c8e6"/>
<rect x="121" y="632" width="5" height="12" fill="#f5f4f8"/>
<rect x="126" y="632" width="4" height="12" fill="#fcfafa"/>
<rect x="130" y="632" width="4" height="12" fill="#e0dcf0"/>
<rect x="134" y="632" width="5" height="12" fill="#8674c0"/>
<rect x="139" y="632" width="4" height="12" fill="#c5bce0"/>
<rect x="143" y="632" width="4" height="12" fill="#c5bce0"/>
<rect x="147" y="632" width="5" height="12" fill="#c5bce0"/>
<rect x="152" y="632" width="4" height="12" fill="#f0cdc7"/>
<rect x="156" y="632" width="4" height="12" fill="#f0cdc7"/>
<rect x="160" y="632" width="5" height="12" fill="#f7ecea"/>
<rect x="165" y="632" width="4" height="12" fill="#eeedf6"/>
<rect x="169" y="632" width="4" height="12" fill="#9584c5"/>
<rect x="173" y="632" width="5" height="12" fill="#edbcb4"/>
<rect x="178" y="632" width="4" height="12" fill="#fcfafa"/>
<rect x="182" y="632" width="4" height="12" fill="#d0c8e6"/>
<rect x="186" y="632" width="5" height="12" fill="#faf3f2"/>
<rect x="191" y="632" width="4" height="12" fill="#bbb0da"/>
<rect x="195" y="632" width="4" height="12" fill="#faf3f2"/>
<rect x="199" y="632" width="5" height="12" fill="#eeedf6"/>
<rect x="204" y="632" width="4" height="12" fill="#d42c28"/>
<rect x="208" y="632" width="4" height="12" fill="#e7e4f3"/>
<rect x="212" y="632" width="5" height="12" fill="#dcd7ee"/>
<rect x="217" y="632" width="4" height="12" fill="#e48e82"/>
<rect x="221" y="632" width="4" height="12" fill="#d0c8e6"/>
<rect x="225" y="632" width="5" height="12" fill="#f5e5e1"/>
<rect x="230" y="632" width="4" height="12" fill="#e7e4f3"/>
<rect x="234" y="632" width="4" height="12" fill="#efc5bd"/>
<rect x="238" y="632" width="5" height="12" fill="#f7ecea"/>
<rect x="243" y="632" width="4" height="12" fill="#f5e5e1"/>
<rect x="247" y="632" width="4" height="12" fill="#dcd7ee"/>
<rect x="251" y="632" width="5" height="12" fill="#f8f0ee"/>
<rect x="256" y="632" width="4" height="12" fill="#fbf6f6"/>
<rect x="260" y="632" width="4" height="12" fill="#f5e5e1"/>
<rect x="264" y="632" width="5" height="12" fill="#faf3f2"/>
<rect x="269" y="632" width="4" height="12" fill="#f4ddd9"/>
<rect x="273" y="632" width="4" height="12" fill="#faf3f2"/>
<rect x="277" y="632" width="5" height="12" fill="#eae9f4"/>
<rect x="282" y="632" width="4" height="12" fill="#efc5bd"/>
<rect x="286" y="632" width="4" height="12" fill="#edbcb4"/>
<rect x="290" y="632" width="5" height="12" fill="#f4e1dd"/>
<rect x="295" y="632" width="4" height="12" fill="#ecb5ac"/>
<rect x="299" y="632" width="4" height="12" fill="#f0cdc7"/>
<rect x="303" y="632" width="5" height="12" fill="#f0cdc7"/>
<rect x="308" y="632" width="4" height="12" fill="#f4e1dd"/>
<rect x="312" y="632" width="4" height="12" fill="#edbcb4"/>
<rect x="316" y="632" width="5" height="12" fill="#dc5c50"/>
<rect x="321" y="632" width="4" height="12" fill="#e07a6e"/>
<rect x="48" y="644" width="4" height="11" fill="#3a329a"/>
<rect x="52" y="644" width="4" height="11" fill="#eeedf6"/>
<rect x="56" y="644" width="5" height="11" fill="#eae9f4"/>
<rect x="61" y="644" width="4" height="11" fill="#f8f0ee"/>
<rect x="65" y="644" width="4" height="11" fill="#f5e5e1"/>
<rect x="69" y="644" width="5" height="11" fill="#f2d6d0"/>
<rect x="74" y="644" width="4" height="11" fill="#d0c8e6"/>
<rect x="78" y="644" width="4" height="11" fill="#f7ecea"/>
<rect x="82" y="644" width="5" height="11" fill="#f0cdc7"/>
<rect x="87" y="644" width="4" height="11" fill="#fcfafa"/>
<rect x="91" y="644" width="4" height="11" fill="#f7ecea"/>
<rect x="95" y="644" width="5" height="11" fill="#e3877b"/>
<rect x="100" y="644" width="4" height="11" fill="#efc5bd"/>
<rect x="104" y="644" width="4" height="11" fill="#f0cdc7"/>
<rect x="108" y="644" width="5" height="11" fill="#6451b0"/>
<rect x="113" y="644" width="4" height="11" fill="#eeedf6"/>
<rect x="117" y="644" width="4" height="11" fill="#e7e4f3"/>
<rect x="121" y="644" width="5" height="11" fill="#f5e5e1"/>
<rect x="126" y="644" width="4" height="11" fill="#efc5bd"/>
<rect x="130" y="644" width="4" height="11" fill="#f5f4f8"/>
<rect x="134" y="644" width="5" height="11" fill="#8674c0"/>
<rect x="139" y="644" width="4" height="11" fill="#f5e5e1"/>
<rect x="143" y="644" width="4" height="11" fill="#d8d2eb"/>
<rect x="147" y="644" width="5" height="11" fill="#fbf6f6"/>
<rect x="152" y="644" width="4" height="11" fill="#e7e4f3"/>
<rect x="156" y="644" width="4" height="11" fill="#f8f0ee"/>
<rect x="160" y="644" width="5" height="11" fill="#f8f0ee"/>
<rect x="165" y="644" width="4" height="11" fill="#f7ecea"/>
<rect x="169" y="644" width="4" height="11" fill="#eae9f4"/>
<rect x="173" y="644" width="5" height="11" fill="#f8f0ee"/>
<rect x="178" y="644" width="4" height="11" fill="#f5e5e1"/>
<rect x="182" y="644" width="4" height="11" fill="#fcfafa"/>
<rect x="186" y="644" width="5" height="11" fill="#eae9f4"/>
<rect x="191" y="644" width="4" height="11" fill="#bbb0da"/>
<rect x="195" y="644" width="4" height="11" fill="#e7e4f3"/>
<rect x="199" y="644" width="5" height="11" fill="#f4e1dd"/>
<rect x="204" y="644" width="4" height="11" fill="#f8f0ee"/>
<rect x="208" y="644" width="4" height="11" fill="#e0dcf0"/>
<rect x="212" y="644" width="5" height="11" fill="#d4cde8"/>
<rect x="217" y="644" width="4" height="11" fill="#e48e82"/>
<rect x="221" y="644" width="4" height="11" fill="#9584c5"/>
<rect x="225" y="644" width="5" height="11" fill="#d42c28"/>
<rect x="230" y="644" width="4" height="11" fill="#ecb5ac"/>
<rect x="234" y="644" width="4" height="11" fill="#f5e5e1"/>
<rect x="238" y="644" width="5" height="11" fill="#f4ddd9"/>
<rect x="243" y="644" width="4" height="11" fill="#f4ddd9"/>
<rect x="247" y="644" width="4" height="11" fill="#fbf6f6"/>
<rect x="251" y="644" width="5" height="11" fill="#e7e4f3"/>
<rect x="256" y="644" width="4" height="11" fill="#eeedf6"/>
<rect x="260" y="644" width="4" height="11" fill="#eaada4"/>
<rect x="264" y="644" width="5" height="11" fill="#dcd7ee"/>
<rect x="269" y="644" width="4" height="11" fill="#e07a6e"/>
<rect x="273" y="644" width="4" height="11" fill="#34318d"/>
<rect x="277" y="644" width="5" height="11" fill="#fcfafa"/>
<rect x="282" y="644" width="4" height="11" fill="#ecb5ac"/>
<rect x="286" y="644" width="4" height="11" fill="#e0dcf0"/>
<rect x="290" y="644" width="5" height="11" fill="#fbf6f6"/>
<rect x="295" y="644" width="4" height="11" fill="#bbb0da"/>
<rect x="299" y="644" width="4" height="11" fill="#ecb5ac"/>
<rect x="303" y="644" width="5" height="11" fill="#e7e4f3"/>
<rect x="308" y="644" width="4" height="11" fill="#bbb0da"/>
<rect x="312" y="644" width="4" height="11" fill="#a99cd0"/>
<rect x="316" y="644" width="5" height="11" fill="#c5bce0"/>
<rect x="321" y="644" width="4" height="11" fill="#bbb0da"/>
<rect x="48" y="655" width="4" height="12" fill="#8674c0"/>
<rect x="52" y="655" width="4" height="12" fill="#eeedf6"/>
<rect x="56" y="655" width="5" height="12" fill="#ecb5ac"/>
<rect x="61" y="655" width="4" height="12" fill="#eeedf6"/>
<rect x="65" y="655" width="4" height="12" fill="#a394cc"/>
<rect x="69" y="655" width="5" height="12" fill="#f4ddd9"/>
<rect x="74" y="655" width="4" height="12" fill="#f8f0ee"/>
<rect x="78" y="655" width="4" height="12" fill="#fbf6f6"/>
<rect x="82" y="655" width="5" height="12" fill="#f0cdc7"/>
<rect x="87" y="655" width="4" height="12" fill="#f4ddd9"/>
<rect x="91" y="655" width="4" height="12" fill="#b0a4d4"/>
<rect x="95" y="655" width="5" height="12" fill="#edbcb4"/>
<rect x="100" y="655" width="4" height="12" fill="#eeedf6"/>
<rect x="104" y="655" width="4" height="12" fill="#fcfafa"/>
<rect x="108" y="655" width="5" height="12" fill="#a99cd0"/>
<rect x="113" y="655" width="4" height="12" fill="#e7e4f3"/>
<rect x="117" y="655" width="4" height="12" fill="#6451b0"/>
<rect x="121" y="655" width="5" height="12" fill="#f8f0ee"/>
<rect x="126" y="655" width="4" height="12" fill="#f4ddd9"/>
<rect x="130" y="655" width="4" height="12" fill="#e9a69c"/>
<rect x="134" y="655" width="5" height="12" fill="#8674c0"/>
<rect x="139" y="655" width="4" height="12" fill="#fcfafa"/>
<rect x="143" y="655" width="4" height="12" fill="#f5f4f8"/>
<rect x="147" y="655" width="5" height="12" fill="#bbb0da"/>
<rect x="152" y="655" width="4" height="12" fill="#f5e5e1"/>
<rect x="156" y="655" width="4" height="12" fill="#e9a69c"/>
<rect x="160" y="655" width="5" height="12" fill="#fcfafa"/>
<rect x="165" y="655" width="4" height="12" fill="#fcfafa"/>
<rect x="169" y="655" width="4" height="12" fill="#d8d2eb"/>
<rect x="173" y="655" width="5" height="12" fill="#f2d6d0"/>
<rect x="178" y="655" width="4" height="12" fill="#eeedf6"/>
<rect x="182" y="655" width="4" height="12" fill="#eeedf6"/>
<rect x="186" y="655" width="5" height="12" fill="#f5e5e1"/>
<rect x="191" y="655" width="4" height="12" fill="#dcd7ee"/>
<rect x="195" y="655" width="4" height="12" fill="#f5e5e1"/>
<rect x="199" y="655" width="5" height="12" fill="#ecb5ac"/>
<rect x="204" y="655" width="4" height="12" fill="#d42c28"/>
<rect x="208" y="655" width="4" height="12" fill="#7361b8"/>
<rect x="212" y="655" width="5" height="12" fill="#faf3f2"/>
<rect x="217" y="655" width="4" height="12" fill="#f4ddd9"/>
<rect x="221" y="655" width="4" height="12" fill="#8d7cc3"/>
<rect x="225" y="655" width="5" height="12" fill="#ecb5ac"/>
<rect x="230" y="655" width="4" height="12" fill="#f8f0ee"/>
<rect x="234" y="655" width="4" height="12" fill="#f4ddd9"/>
<rect x="238" y="655" width="5" height="12" fill="#f2d6d0"/>
<rect x="243" y="655" width="4" height="12" fill="#e4e0f2"/>
<rect x="247" y="655" width="4" height="12" fill="#f5e5e1"/>
<rect x="251" y="655" width="5" height="12" fill="#a99cd0"/>
<rect x="256" y="655" width="4" height="12" fill="#9584c5"/>
<rect x="260" y="655" width="4" height="12" fill="#e69a8f"/>
<rect x="264" y="655" width="5" height="12" fill="#9584c5"/>
<rect x="269" y="655" width="4" height="12" fill="#fcfafa"/>
<rect x="273" y="655" width="4" height="12" fill="#d8d2eb"/>
<rect x="277" y="655" width="5" height="12" fill="#e4e0f2"/>
<rect x="282" y="655" width="4" height="12" fill="#eae9f4"/>
<rect x="286" y="655" width="4" height="12" fill="#f5e5e1"/>
<rect x="290" y="655" width="5" height="12" fill="#c5bce0"/>
<rect x="295" y="655" width="4" height="12" fill="#d0c8e6"/>
<rect x="299" y="655" width="4" height="12" fill="#eaada4"/>
<rect x="303" y="655" width="5" height="12" fill="#dcd7ee"/>
<rect x="308" y="655" width="4" height="12" fill="#fcfafa"/>
<rect x="312" y="655" width="4" height="12" fill="#fbf6f6"/>
<rect x="316" y="655" width="5" height="12" fill="#da5046"/>
<rect x="321" y="655" width="4" height="12" fill="#a99cd0"/>
<rect x="48" y="667" width="4" height="12" fill="#2e3080"/>
<rect x="52" y="667" width="4" height="12" fill="#b0a4d4"/>
<rect x="56" y="667" width="5" height="12" fill="#eeedf6"/>
<rect x="61" y="667" width="4" height="12" fill="#d8d2eb"/>
<rect x="65" y="667" width="4" height="12" fill="#e0dcf0"/>
<rect x="69" y="667" width="5" height="12" fill="#f5e5e1"/>
<rect x="74" y="667" width="4" height="12" fill="#dd665a"/>
<rect x="78" y="667" width="4" height="12" fill="#f7ecea"/>
<rect x="82" y="667" width="5" height="12" fill="#f7ecea"/>
<rect x="87" y="667" width="4" height="12" fill="#9c8cc8"/>
<rect x="91" y="667" width="4" height="12" fill="#a394cc"/>
<rect x="95" y="667" width="5" height="12" fill="#d0c8e6"/>
<rect x="100" y="667" width="4" height="12" fill="#eeedf6"/>
<rect x="104" y="667" width="4" height="12" fill="#eeedf6"/>
<rect x="108" y="667" width="5" height="12" fill="#503ca2"/>
<rect x="113" y="667" width="4" height="12" fill="#a394cc"/>
<rect x="117" y="667" width="4" height="12" fill="#e7e4f3"/>
<rect x="121" y="667" width="5" height="12" fill="#faf3f2"/>
<rect x="126" y="667" width="4" height="12" fill="#faf3f2"/>
<rect x="130" y="667" width="4" height="12" fill="#d8d2eb"/>
<rect x="134" y="667" width="5" height="12" fill="#f8f0ee"/>
<rect x="139" y="667" width="4" height="12" fill="#fcfafa"/>
<rect x="143" y="667" width="4" height="12" fill="#9c8cc8"/>
<rect x="147" y="667" width="5" height="12" fill="#bbb0da"/>
<rect x="152" y="667" width="4" height="12" fill="#f5e5e1"/>
<rect x="156" y="667" width="4" height="12" fill="#f0cdc7"/>
<rect x="160" y="667" width="5" height="12" fill="#a99cd0"/>
<rect x="165" y="667" width="4" height="12" fill="#a99cd0"/>
<rect x="169" y="667" width="4" height="12" fill="#e0dcf0"/>
<rect x="173" y="667" width="5" height="12" fill="#eae9f4"/>
<rect x="178" y="667" width="4" height="12" fill="#e7e4f3"/>
<rect x="182" y="667" width="4" height="12" fill="#e7e4f3"/>
<rect x="186" y="667" width="5" height="12" fill="#d8d2eb"/>
<rect x="191" y="667" width="4" height="12" fill="#e7e4f3"/>
<rect x="195" y="667" width="4" height="12" fill="#f5f4f8"/>
<rect x="199" y="667" width="5" height="12" fill="#d8443c"/>
<rect x="204" y="667" width="4" height="12" fill="#f4ddd9"/>
<rect x="208" y="667" width="4" height="12" fill="#f8f0ee"/>
<rect x="212" y="667" width="5" height="12" fill="#eae9f4"/>
<rect x="217" y="667" width="4" height="12" fill="#f4ddd9"/>
<rect x="221" y="667" width="4" height="12" fill="#f8f0ee"/>
<rect x="225" y="667" width="5" height="12" fill="#f2d6d0"/>
<rect x="230" y="667" width="4" height="12" fill="#f2d6d0"/>
<rect x="234" y="667" width="4" height="12" fill="#e4e0f2"/>
<rect x="238" y="667" width="5" height="12" fill="#fcfafa"/>
<rect x="243" y="667" width="4" height="12" fill="#faf3f2"/>
<rect x="247" y="667" width="4" height="12" fill="#f4ddd9"/>
<rect x="251" y="667" width="5" height="12" fill="#a99cd0"/>
<rect x="256" y="667" width="4" height="12" fill="#fcfafa"/>
<rect x="260" y="667" width="4" height="12" fill="#f0cdc7"/>
<rect x="264" y="667" width="5" height="12" fill="#e48e82"/>
<rect x="269" y="667" width="4" height="12" fill="#f2d6d0"/>
<rect x="273" y="667" width="4" height="12" fill="#eae9f4"/>
<rect x="277" y="667" width="5" height="12" fill="#f7ecea"/>
<rect x="282" y="667" width="4" height="12" fill="#f8f0ee"/>
<rect x="286" y="667" width="4" height="12" fill="#f0cdc7"/>
<rect x="290" y="667" width="5" height="12" fill="#dcd7ee"/>
<rect x="295" y="667" width="4" height="12" fill="#e69a8f"/>
<rect x="299" y="667" width="4" height="12" fill="#e7e4f3"/>
<rect x="303" y="667" width="5" height="12" fill="#d4cde8"/>
<rect x="308" y="667" width="4" height="12" fill="#f2d6d0"/>
<rect x="312" y="667" width="4" height="12" fill="#e48e82"/>
<rect x="316" y="667" width="5" height="12" fill="#fbf6f6"/>
<rect x="321" y="667" width="4" height="12" fill="#dc5c50"/>
<rect x="48" y="679" width="4" height="12" fill="#a99cd0"/>
<rect x="52" y="679" width="4" height="12" fill="#a99cd0"/>
<rect x="56" y="679" width="5" height="12" fill="#f0cdc7"/>
<rect x="61" y="679" width="4" height="12" fill="#dc5c50"/>
<rect x="65" y="679" width="4" height="12" fill="#f2d6d0"/>
<rect x="69" y="679" width="5" height="12" fill="#e48e82"/>
<rect x="74" y="679" width="4" height="12" fill="#d0c8e6"/>
<rect x="78" y="679" width="4" height="12" fill="#fcfafa"/>
<rect x="82" y="679" width="5" height="12" fill="#dc5c50"/>
<rect x="87" y="679" width="4" height="12" fill="#9584c5"/>
<rect x="91" y="679" width="4" height="12" fill="#f5e5e1"/>
<rect x="95" y="679" width="5" height="12" fill="#f5e5e1"/>
<rect x="100" y="679" width="4" height="12" fill="#faf3f2"/>
<rect x="104" y="679" width="4" height="12" fill="#bbb0da"/>
<rect x="108" y="679" width="5" height="12" fill="#b0a4d4"/>
<rect x="113" y="679" width="4" height="12" fill="#b0a4d4"/>
<rect x="117" y="679" width="4" height="12" fill="#f4ddd9"/>
<rect x="121" y="679" width="5" height="12" fill="#e9a69c"/>
<rect x="126" y="679" width="4" height="12" fill="#eae9f4"/>
<rect x="130" y="679" width="4" height="12" fill="#eae9f4"/>
<rect x="134" y="679" width="5" height="12" fill="#a99cd0"/>
<rect x="139" y="679" width="4" height="12" fill="#eeedf6"/>
<rect x="143" y="679" width="4" height="12" fill="#9584c5"/>
<rect x="147" y="679" width="5" height="12" fill="#5e4bac"/>
<rect x="152" y="679" width="4" height="12" fill="#9c8cc8"/>
<rect x="156" y="679" width="4" height="12" fill="#f5e5e1"/>
<rect x="160" y="679" width="5" height="12" fill="#d8d2eb"/>
<rect x="165" y="679" width="4" height="12" fill="#b0a4d4"/>
<rect x="169" y="679" width="4" height="12" fill="#fcfafa"/>
<rect x="173" y="679" width="5" height="12" fill="#fcfafa"/>
<rect x="178" y="679" width="4" height="12" fill="#a394cc"/>
<rect x="182" y="679" width="4" height="12" fill="#d0c8e6"/>
<rect x="186" y="679" width="5" height="12" fill="#9c8cc8"/>
<rect x="191" y="679" width="4" height="12" fill="#9c8cc8"/>
<rect x="195" y="679" width="4" height="12" fill="#a99cd0"/>
<rect x="199" y="679" width="5" height="12" fill="#e3877b"/>
<rect x="204" y="679" width="4" height="12" fill="#edbcb4"/>
<rect x="208" y="679" width="4" height="12" fill="#d4cde8"/>
<rect x="212" y="679" width="5" height="12" fill="#fcfafa"/>
<rect x="217" y="679" width="4" height="12" fill="#f5e5e1"/>
<rect x="221" y="679" width="4" height="12" fill="#d8d2eb"/>
<rect x="225" y="679" width="5" height="12" fill="#bbb0da"/>
<rect x="230" y="679" width="4" height="12" fill="#efc5bd"/>
<rect x="234" y="679" width="4" height="12" fill="#efc5bd"/>
<rect x="238" y="679" width="5" height="12" fill="#fbf6f6"/>
<rect x="243" y="679" width="4" height="12" fill="#f8f0ee"/>
<rect x="247" y="679" width="4" height="12" fill="#eeedf6"/>
<rect x="251" y="679" width="5" height="12" fill="#f7ecea"/>
<rect x="256" y="679" width="4" height="12" fill="#c5bce0"/>
<rect x="260" y="679" width="4" height="12" fill="#9584c5"/>
<rect x="264" y="679" width="5" height="12" fill="#e9a69c"/>
<rect x="269" y="679" width="4" height="12" fill="#df7064"/>
<rect x="273" y="679" width="4" height="12" fill="#dcd7ee"/>
<rect x="277" y="679" width="5" height="12" fill="#eaada4"/>
<rect x="282" y="679" width="4" height="12" fill="#f0cdc7"/>
<rect x="286" y="679" width="4" height="12" fill="#edbcb4"/>
<rect x="290" y="679" width="5" height="12" fill="#f7ecea"/>
<rect x="295" y="679" width="4" height="12" fill="#f7ecea"/>
<rect x="299" y="679" width="4" height="12" fill="#efc5bd"/>
<rect x="303" y="679" width="5" height="12" fill="#faf3f2"/>
<rect x="308" y="679" width="4" height="12" fill="#fbf6f6"/>
<rect x="312" y="679" width="4" height="12" fill="#f7ecea"/>
<rect x="316" y="679" width="5" height="12" fill="#f5e5e1"/>
<rect x="321" y="679" width="4" height="12" fill="#f7ecea"/>
</g>
<line x1="32.20" y1="566.71" x2="34.00" y2="566.71" stroke="#444" stroke-width="0.9" />
<text x="0.00" y="0.00" font-family='"Liberation Serif", serif' font-size="5.3" text-anchor="end" fill="#4a4a4a" transform="translate(31.40 568.61) scale(1 1.13)"  stroke="#4a4a4a" stroke-width="0.12" stroke-linejoin="round">TERF1</text>
<line x1="32.20" y1="578.53" x2="34.00" y2="578.53" stroke="#444" stroke-width="0.9" />
<text x="0.00" y="0.00" font-family='"Liberation Serif", serif' font-size="5.3" text-anchor="end" fill="#4a4a4a" transform="translate(31.40 580.43) scale(1 1.13)"  stroke="#4a4a4a" stroke-width="0.12" stroke-linejoin="round">YY1</text>
<line x1="32.20" y1="590.35" x2="34.00" y2="590.35" stroke="#444" stroke-width="0.9" />
<text x="0.00" y="0.00" font-family='"Liberation Serif", serif' font-size="5.3" text-anchor="end" fill="#4a4a4a" transform="translate(31.40 592.25) scale(1 1.13)"  stroke="#4a4a4a" stroke-width="0.12" stroke-linejoin="round">SNRNP70</text>
<line x1="32.20" y1="602.16" x2="34.00" y2="602.16" stroke="#444" stroke-width="0.9" />
<text x="0.00" y="0.00" font-family='"Liberation Serif", serif' font-size="5.3" text-anchor="end" fill="#4a4a4a" transform="translate(31.40 604.06) scale(1 1.13)"  stroke="#4a4a4a" stroke-width="0.12" stroke-linejoin="round">CREBBP</text>
<line x1="32.20" y1="613.98" x2="34.00" y2="613.98" stroke="#444" stroke-width="0.9" />
<text x="0.00" y="0.00" font-family='"Liberation Serif", serif' font-size="5.3" text-anchor="end" fill="#4a4a4a" transform="translate(31.40 615.88) scale(1 1.13)"  stroke="#4a4a4a" stroke-width="0.12" stroke-linejoin="round">CYP7B1</text>
<line x1="32.20" y1="625.80" x2="34.00" y2="625.80" stroke="#444" stroke-width="0.9" />
<text x="0.00" y="0.00" font-family='"Liberation Serif", serif' font-size="5.3" text-anchor="end" fill="#4a4a4a" transform="translate(31.40 627.70) scale(1 1.13)"  stroke="#4a4a4a" stroke-width="0.12" stroke-linejoin="round">LATS1</text>
<line x1="32.20" y1="637.62" x2="34.00" y2="637.62" stroke="#444" stroke-width="0.9" />
<text x="0.00" y="0.00" font-family='"Liberation Serif", serif' font-size="5.3" text-anchor="end" fill="#4a4a4a" transform="translate(31.40 639.52) scale(1 1.13)"  stroke="#4a4a4a" stroke-width="0.12" stroke-linejoin="round">ENO1</text>
<line x1="32.20" y1="649.44" x2="34.00" y2="649.44" stroke="#444" stroke-width="0.9" />
<text x="0.00" y="0.00" font-family='"Liberation Serif", serif' font-size="5.3" text-anchor="end" fill="#4a4a4a" transform="translate(31.40 651.34) scale(1 1.13)"  stroke="#4a4a4a" stroke-width="0.12" stroke-linejoin="round">ACO2</text>
<line x1="32.20" y1="661.25" x2="34.00" y2="661.25" stroke="#444" stroke-width="0.9" />
<text x="0.00" y="0.00" font-family='"Liberation Serif", serif' font-size="5.3" text-anchor="end" fill="#4a4a4a" transform="translate(31.40 663.15) scale(1 1.13)"  stroke="#4a4a4a" stroke-width="0.12" stroke-linejoin="round">LDHA</text>
<line x1="32.20" y1="673.07" x2="34.00" y2="673.07" stroke="#444" stroke-width="0.9" />
<text x="0.00" y="0.00" font-family='"Liberation Serif", serif' font-size="5.3" text-anchor="end" fill="#4a4a4a" transform="translate(31.40 674.97) scale(1 1.13)"  stroke="#4a4a4a" stroke-width="0.12" stroke-linejoin="round">PRDX4</text>
<line x1="32.20" y1="684.89" x2="34.00" y2="684.89" stroke="#444" stroke-width="0.9" />
<text x="0.00" y="0.00" font-family='"Liberation Serif", serif' font-size="5.3" text-anchor="end" fill="#4a4a4a" transform="translate(31.40 686.79) scale(1 1.13)"  stroke="#4a4a4a" stroke-width="0.12" stroke-linejoin="round">E2F1</text>
<text x="185.30" y="715.00" font-family='"Liberation Serif", serif' font-size="5.3" text-anchor="end" fill="#222"  stroke="#222" stroke-width="0.18" stroke-linejoin="round">z-score of expression</text>
<defs><linearGradient id="zg" x1="0" x2="1" y1="0" y2="0"><stop offset="0" stop-color="#2d2a8c"/><stop offset="0.17" stop-color="#5a4aa8"/><stop offset="0.33" stop-color="#9a8ccc"/><stop offset="0.5" stop-color="#ffffff"/><stop offset="0.67" stop-color="#eeaaa0"/><stop offset="0.83" stop-color="#e2685a"/><stop offset="1" stop-color="#d8302a"/></linearGradient></defs>
<rect x="188.1" y="703.7" width="45.8" height="10.1" fill="url(#zg)"/>
<line x1="195.30" y1="703.70" x2="195.30" y2="705.30" stroke="#fff" stroke-width="0.6" />
<line x1="195.30" y1="712.20" x2="195.30" y2="713.80" stroke="#fff" stroke-width="0.6" />
<line x1="203.50" y1="703.70" x2="203.50" y2="705.30" stroke="#fff" stroke-width="0.6" />
<line x1="203.50" y1="712.20" x2="203.50" y2="713.80" stroke="#fff" stroke-width="0.6" />
<line x1="211.30" y1="703.70" x2="211.30" y2="705.30" stroke="#fff" stroke-width="0.6" />
<line x1="211.30" y1="712.20" x2="211.30" y2="713.80" stroke="#fff" stroke-width="0.6" />
<line x1="219.00" y1="703.70" x2="219.00" y2="705.30" stroke="#fff" stroke-width="0.6" />
<line x1="219.00" y1="712.20" x2="219.00" y2="713.80" stroke="#fff" stroke-width="0.6" />
<line x1="226.40" y1="703.70" x2="226.40" y2="705.30" stroke="#fff" stroke-width="0.6" />
<line x1="226.40" y1="712.20" x2="226.40" y2="713.80" stroke="#fff" stroke-width="0.6" />
<text x="195.80" y="720.60" font-family='"Liberation Serif", serif' font-size="5.2" text-anchor="middle" fill="#333"  stroke="#333" stroke-width="0.18" stroke-linejoin="round">−2</text>
<text x="203.30" y="720.60" font-family='"Liberation Serif", serif' font-size="5.2" text-anchor="middle" fill="#333"  stroke="#333" stroke-width="0.18" stroke-linejoin="round">−1</text>
<text x="211.10" y="720.60" font-family='"Liberation Serif", serif' font-size="5.2" text-anchor="middle" fill="#333"  stroke="#333" stroke-width="0.18" stroke-linejoin="round">0</text>
<text x="218.60" y="720.60" font-family='"Liberation Serif", serif' font-size="5.2" text-anchor="middle" fill="#333"  stroke="#333" stroke-width="0.18" stroke-linejoin="round">1</text>
<text x="226.30" y="720.60" font-family='"Liberation Serif", serif' font-size="5.2" text-anchor="middle" fill="#333"  stroke="#333" stroke-width="0.18" stroke-linejoin="round">2</text>
<text x="366.60" y="243.90" font-family='"Liberation Sans", sans-serif' font-size="14" text-anchor="middle" fill="#1a1a1a" >D</text>
<line x1="485.50" y1="236.40" x2="493.10" y2="236.40" stroke="#c4392b" stroke-width="1.2" />
<line x1="489.30" y1="234.60" x2="489.30" y2="238.20" stroke="#c4392b" stroke-width="1" />
<text x="496.80" y="238.60" font-family='"Liberation Serif", serif' font-size="5.3" text-anchor="start" fill="#333" textLength="43.4" lengthAdjust="spacingAndGlyphs"  stroke="#333" stroke-width="0.18" stroke-linejoin="round">groups=High groups</text>
<line x1="544.20" y1="236.40" x2="552.10" y2="236.40" stroke="#2f77bd" stroke-width="1.2" />
<line x1="548.10" y1="234.60" x2="548.10" y2="238.20" stroke="#2f77bd" stroke-width="1" />
<text x="555.70" y="238.60" font-family='"Liberation Serif", serif' font-size="5.3" text-anchor="start" fill="#333" textLength="42.9" lengthAdjust="spacingAndGlyphs"  stroke="#333" stroke-width="0.18" stroke-linejoin="round">groups=Low groups</text>
<line x1="400.40" y1="251.60" x2="680.00" y2="251.60" stroke="#8a8a8a" stroke-width="1" />
<line x1="680.00" y1="251.60" x2="680.00" y2="414.00" stroke="#c4c4c4" stroke-width="1.2" />
<line x1="400.40" y1="251.60" x2="400.40" y2="414.00" stroke="#8a8a8a" stroke-width="1" />
<line x1="400.40" y1="414.00" x2="680.00" y2="414.00" stroke="#8a8a8a" stroke-width="1.2" />
<line x1="398.20" y1="258.60" x2="400.40" y2="258.60" stroke="#555" stroke-width="0.8" />
<text x="397.70" y="260.90" font-family='"Liberation Serif", serif' font-size="5.3" text-anchor="end" fill="#444"  stroke="#444" stroke-width="0.18" stroke-linejoin="round">1.00</text>
<line x1="398.20" y1="295.60" x2="400.40" y2="295.60" stroke="#555" stroke-width="0.8" />
<text x="397.70" y="297.90" font-family='"Liberation Serif", serif' font-size="5.3" text-anchor="end" fill="#444"  stroke="#444" stroke-width="0.18" stroke-linejoin="round">0.75</text>
<line x1="398.20" y1="332.60" x2="400.40" y2="332.60" stroke="#555" stroke-width="0.8" />
<text x="397.70" y="334.90" font-family='"Liberation Serif", serif' font-size="5.3" text-anchor="end" fill="#444"  stroke="#444" stroke-width="0.18" stroke-linejoin="round">0.50</text>
<line x1="398.20" y1="369.60" x2="400.40" y2="369.60" stroke="#555" stroke-width="0.8" />
<text x="397.70" y="371.90" font-family='"Liberation Serif", serif' font-size="5.3" text-anchor="end" fill="#444"  stroke="#444" stroke-width="0.18" stroke-linejoin="round">0.25</text>
<line x1="398.20" y1="406.60" x2="400.40" y2="406.60" stroke="#555" stroke-width="0.8" />
<text x="397.70" y="408.90" font-family='"Liberation Serif", serif' font-size="5.3" text-anchor="end" fill="#444"  stroke="#444" stroke-width="0.18" stroke-linejoin="round">0.00</text>
<text x="351.60" y="333.10" font-family='"Liberation Sans", sans-serif' font-size="6.5" text-anchor="middle" fill="#222" transform="rotate(-90 351.60 333.10)"  stroke="#222" stroke-width="0.18" stroke-linejoin="round">Overall survival probability</text>
<line x1="413.00" y1="414.00" x2="413.00" y2="416.00" stroke="#555" stroke-width="0.8" />
<line x1="476.40" y1="414.00" x2="476.40" y2="416.00" stroke="#555" stroke-width="0.8" />
<line x1="540.50" y1="414.00" x2="540.50" y2="416.00" stroke="#555" stroke-width="0.8" />
<line x1="603.40" y1="414.00" x2="603.40" y2="416.00" stroke="#555" stroke-width="0.8" />
<line x1="667.40" y1="414.00" x2="667.40" y2="416.00" stroke="#555" stroke-width="0.8" />
<line x1="413.00" y1="332.60" x2="502.70" y2="332.60" stroke="#222" stroke-width="0.8" stroke-dasharray="2.2 1.6"/>
<line x1="443.40" y1="332.60" x2="443.40" y2="406.70" stroke="#222" stroke-width="0.8" stroke-dasharray="2.2 1.6"/>
<line x1="502.70" y1="332.60" x2="502.70" y2="406.70" stroke="#222" stroke-width="0.8" stroke-dasharray="2.2 1.6"/>
<path d="M420.5,258.6 V263 H421.3 V267.7 H423.8 V272.7 H427.7 V277.7 H431.6 V282 H432 V287 H432.4 V292 H432.8 V297 H433.3 V313.1 H434.9 V317.5 H436 V322.3 H441.9 V327 H443 V333.6 H443.7 V346.5 H446.1 V352.1 H448.5 V357.7 H451 V362.6 H453 V367 H472.3 V375.4 H483.5 V383.1 H484.7 V390.7 H495.1 V398.7 H514.7 V406.7" fill="none" stroke="#c4392b" stroke-width="1.5"/>
<path d="M413.3,258.6 H426.6 V263.1 H432.7 V267.7 H440.5 V273.3 H449.6 V279.3 H450.2 V285.2 H462 V291.2 H470.4 V298.2 H476.4 V304.8 H478.6 V318.4 H502.4 V333.8 H504.6 V342 H522.1 V351.3 H526.5 V360.8 H533.8 V370.2 H550.5 V379.1 H642.6 V393.2 H672.8 V406.7" fill="none" stroke="#2f77bd" stroke-width="1.5"/>
<line x1="433.30" y1="266.10" x2="433.30" y2="269.30" stroke="#2f77bd" stroke-width="0.9" />
<line x1="435.90" y1="266.10" x2="435.90" y2="269.30" stroke="#2f77bd" stroke-width="0.9" />
<line x1="438.50" y1="266.10" x2="438.50" y2="269.30" stroke="#2f77bd" stroke-width="0.9" />
<line x1="443.80" y1="271.70" x2="443.80" y2="274.90" stroke="#2f77bd" stroke-width="0.9" />
<line x1="446.40" y1="271.70" x2="446.40" y2="274.90" stroke="#2f77bd" stroke-width="0.9" />
<line x1="455.60" y1="283.60" x2="455.60" y2="286.80" stroke="#2f77bd" stroke-width="0.9" />
<line x1="468.70" y1="289.60" x2="468.70" y2="292.80" stroke="#2f77bd" stroke-width="0.9" />
<line x1="487.10" y1="316.80" x2="487.10" y2="320.00" stroke="#2f77bd" stroke-width="0.9" />
<line x1="495.00" y1="316.80" x2="495.00" y2="320.00" stroke="#2f77bd" stroke-width="0.9" />
<line x1="506.30" y1="340.40" x2="506.30" y2="343.60" stroke="#2f77bd" stroke-width="0.9" />
<line x1="507.60" y1="340.40" x2="507.60" y2="343.60" stroke="#2f77bd" stroke-width="0.9" />
<line x1="554.00" y1="377.50" x2="554.00" y2="380.70" stroke="#2f77bd" stroke-width="0.9" />
<line x1="455.80" y1="365.40" x2="455.80" y2="368.60" stroke="#c4392b" stroke-width="0.9" />
<line x1="458.20" y1="365.40" x2="458.20" y2="368.60" stroke="#c4392b" stroke-width="0.9" />
<line x1="421.00" y1="261.40" x2="421.00" y2="264.60" stroke="#c4392b" stroke-width="0.9" />
<line x1="422.60" y1="266.10" x2="422.60" y2="269.30" stroke="#c4392b" stroke-width="0.9" />
<text x="412.90" y="375.20" font-family='"Liberation Serif", serif' font-size="5.6" text-anchor="start" fill="#222" textLength="50.6" lengthAdjust="spacingAndGlyphs"  stroke="#222" stroke-width="0.18" stroke-linejoin="round">Log−rank P = 3.86e−06</text>
<text x="412.90" y="384.00" font-family='"Liberation Serif", serif' font-size="5.6" text-anchor="start" fill="#222" textLength="50.6" lengthAdjust="spacingAndGlyphs"  stroke="#222" stroke-width="0.18" stroke-linejoin="round">HR(High groups)=4.843</text>
<text x="413.80" y="392.60" font-family='"Liberation Serif", serif' font-size="5.6" text-anchor="start" fill="#222" textLength="45" lengthAdjust="spacingAndGlyphs"  stroke="#222" stroke-width="0.18" stroke-linejoin="round">95%CI(2.415, 9.711)</text>
<text x="412.90" y="407.30" font-family='"Liberation Serif", serif' font-size="5.6" text-anchor="start" fill="#d8402c" textLength="52.6" lengthAdjust="spacingAndGlyphs"  stroke="#d8402c" stroke-width="0.18" stroke-linejoin="round">Median time:2.4 and 7</text>
<rect x="548" y="260.2" width="124.3" height="49" fill="#fff" stroke="#b0b0b0" stroke-width="1"/>
<line x1="548.00" y1="260.20" x2="548.00" y2="309.20" stroke="#777" stroke-width="0.8" />
<line x1="548.00" y1="309.20" x2="672.30" y2="309.20" stroke="#777" stroke-width="0.8" />
<line x1="546.30" y1="307.50" x2="548.00" y2="307.50" stroke="#555" stroke-width="0.6" />
<text x="545.30" y="308.70" font-family='"Liberation Sans", sans-serif' font-size="3.5" text-anchor="end" fill="#555"  stroke="#555" stroke-width="0.18" stroke-linejoin="round">0</text>
<line x1="546.30" y1="292.10" x2="548.00" y2="292.10" stroke="#555" stroke-width="0.6" />
<text x="545.30" y="293.30" font-family='"Liberation Sans", sans-serif' font-size="3.5" text-anchor="end" fill="#555"  stroke="#555" stroke-width="0.18" stroke-linejoin="round">1</text>
<line x1="546.30" y1="276.70" x2="548.00" y2="276.70" stroke="#555" stroke-width="0.6" />
<text x="545.30" y="277.90" font-family='"Liberation Sans", sans-serif' font-size="3.5" text-anchor="end" fill="#555"  stroke="#555" stroke-width="0.18" stroke-linejoin="round">2</text>
<line x1="546.30" y1="261.30" x2="548.00" y2="261.30" stroke="#555" stroke-width="0.6" />
<text x="545.30" y="262.50" font-family='"Liberation Sans", sans-serif' font-size="3.5" text-anchor="end" fill="#555"  stroke="#555" stroke-width="0.18" stroke-linejoin="round">3</text>
<line x1="553.90" y1="309.20" x2="553.90" y2="310.80" stroke="#555" stroke-width="0.6" />
<text x="553.90" y="317.10" font-family='"Liberation Sans", sans-serif' font-size="5" text-anchor="middle" fill="#333"  stroke="#333" stroke-width="0.18" stroke-linejoin="round">0</text>
<line x1="582.10" y1="309.20" x2="582.10" y2="310.80" stroke="#555" stroke-width="0.6" />
<text x="582.10" y="317.10" font-family='"Liberation Sans", sans-serif' font-size="5" text-anchor="middle" fill="#333"  stroke="#333" stroke-width="0.18" stroke-linejoin="round">5</text>
<line x1="610.30" y1="309.20" x2="610.30" y2="310.80" stroke="#555" stroke-width="0.6" />
<text x="610.30" y="317.10" font-family='"Liberation Sans", sans-serif' font-size="5" text-anchor="middle" fill="#333"  stroke="#333" stroke-width="0.18" stroke-linejoin="round">10</text>
<line x1="638.50" y1="309.20" x2="638.50" y2="310.80" stroke="#555" stroke-width="0.6" />
<text x="638.50" y="317.10" font-family='"Liberation Sans", sans-serif' font-size="5" text-anchor="middle" fill="#333"  stroke="#333" stroke-width="0.18" stroke-linejoin="round">15</text>
<line x1="666.70" y1="309.20" x2="666.70" y2="310.80" stroke="#555" stroke-width="0.6" />
<text x="666.70" y="317.10" font-family='"Liberation Sans", sans-serif' font-size="5" text-anchor="middle" fill="#333"  stroke="#333" stroke-width="0.18" stroke-linejoin="round">20</text>
<text x="610.50" y="323.80" font-family='"Liberation Sans", sans-serif' font-size="6.9" text-anchor="middle" fill="#222" textLength="13.4" lengthAdjust="spacingAndGlyphs"  stroke="#222" stroke-width="0.18" stroke-linejoin="round">Time</text>
<polyline points="553.90,307.52 557.37,307.52 557.37,306.09 559.42,306.09 559.42,305.48 562.07,305.48 562.07,304.05 562.89,304.05 562.89,300.37 564.93,300.37 564.93,298.53 566.57,298.53 566.57,297.51 568.00,297.51 568.00,293.83 569.63,293.83 569.63,290.77 571.06,290.77 571.06,287.70 572.29,287.70 572.29,286.27 580.67,286.27 580.67,283.61 584.76,283.61 584.76,279.12 585.78,279.12 585.78,272.98 589.87,272.98 589.87,262.15 591.09,262.15 591.09,261.34 597.63,261.34 597.63,260.52 599.27,260.52 599.27,260.11" fill="none" stroke="#c4392b" stroke-width="1.4" stroke-linejoin="round" />
<polyline points="553.90,307.52 558.39,307.52 558.39,306.91 562.48,306.91 562.48,306.30 566.57,306.30 566.57,305.68 570.66,305.68 570.66,304.87 573.72,304.87 573.72,304.05 577.81,304.05 577.81,303.23 580.87,303.23 580.87,302.01 582.92,302.01 582.92,300.37 583.74,300.37 583.74,298.94 593.55,298.94 593.55,296.90 594.77,296.90 594.77,294.85 601.31,294.85 601.31,292.81 602.54,292.81 602.54,290.77 604.58,290.77 604.58,288.72 607.03,288.72 607.03,285.66 614.39,285.66 614.39,282.59 615.62,282.59 615.62,280.55 655.68,280.55 655.68,270.33 669.37,270.33 669.37,260.11" fill="none" stroke="#2f77bd" stroke-width="1.4" stroke-linejoin="round" />
<line x1="558.00" y1="304.50" x2="558.00" y2="307.10" stroke="#c4392b" stroke-width="0.8" />
<line x1="559.60" y1="304.50" x2="559.60" y2="307.10" stroke="#c4392b" stroke-width="0.8" />
<line x1="573.00" y1="285.30" x2="573.00" y2="287.90" stroke="#c4392b" stroke-width="0.8" />
<line x1="575.00" y1="285.30" x2="575.00" y2="287.90" stroke="#c4392b" stroke-width="0.8" />
<line x1="562.00" y1="305.00" x2="562.00" y2="307.60" stroke="#2f77bd" stroke-width="0.8" />
<line x1="565.00" y1="304.50" x2="565.00" y2="307.10" stroke="#2f77bd" stroke-width="0.8" />
<line x1="572.00" y1="303.30" x2="572.00" y2="305.90" stroke="#2f77bd" stroke-width="0.8" />
<line x1="576.00" y1="302.30" x2="576.00" y2="304.90" stroke="#2f77bd" stroke-width="0.8" />
<line x1="586.00" y1="297.60" x2="586.00" y2="300.20" stroke="#2f77bd" stroke-width="0.8" />
<line x1="590.00" y1="297.60" x2="590.00" y2="300.20" stroke="#2f77bd" stroke-width="0.8" />
<line x1="598.00" y1="293.60" x2="598.00" y2="296.20" stroke="#2f77bd" stroke-width="0.8" />
<line x1="614.50" y1="284.30" x2="614.50" y2="286.90" stroke="#2f77bd" stroke-width="0.8" />
<line x1="400.40" y1="416.30" x2="680.00" y2="416.30" stroke="#9a9a9a" stroke-width="1" />
<line x1="400.40" y1="416.30" x2="400.40" y2="458.00" stroke="#8a8a8a" stroke-width="1" />
<line x1="400.40" y1="458.00" x2="680.00" y2="458.00" stroke="#8a8a8a" stroke-width="1.2" />
<line x1="680.00" y1="416.30" x2="680.00" y2="458.00" stroke="#c4c4c4" stroke-width="1.2" />
<line x1="413.00" y1="417.00" x2="413.00" y2="457.00" stroke="#ececec" stroke-width="0.5" />
<line x1="444.70" y1="417.00" x2="444.70" y2="457.00" stroke="#ececec" stroke-width="0.5" />
<line x1="476.40" y1="417.00" x2="476.40" y2="457.00" stroke="#ececec" stroke-width="0.5" />
<line x1="508.10" y1="417.00" x2="508.10" y2="457.00" stroke="#ececec" stroke-width="0.5" />
<line x1="539.80" y1="417.00" x2="539.80" y2="457.00" stroke="#ececec" stroke-width="0.5" />
<line x1="571.50" y1="417.00" x2="571.50" y2="457.00" stroke="#ececec" stroke-width="0.5" />
<line x1="603.20" y1="417.00" x2="603.20" y2="457.00" stroke="#ececec" stroke-width="0.5" />
<line x1="634.90" y1="417.00" x2="634.90" y2="457.00" stroke="#ececec" stroke-width="0.5" />
<line x1="666.60" y1="417.00" x2="666.60" y2="457.00" stroke="#ececec" stroke-width="0.5" />
<line x1="401.00" y1="427.80" x2="679.50" y2="427.80" stroke="#ececec" stroke-width="0.5" />
<line x1="398.20" y1="427.80" x2="400.40" y2="427.80" stroke="#555" stroke-width="0.8" />
<line x1="401.00" y1="446.50" x2="679.50" y2="446.50" stroke="#ececec" stroke-width="0.5" />
<line x1="398.20" y1="446.50" x2="400.40" y2="446.50" stroke="#555" stroke-width="0.8" />
<text x="397.80" y="429.60" font-family='"Liberation Serif", serif' font-size="5.3" text-anchor="end" fill="#444" textLength="44" lengthAdjust="spacingAndGlyphs"  stroke="#444" stroke-width="0.18" stroke-linejoin="round">groups=High groups</text>
<text x="397.80" y="448.30" font-family='"Liberation Serif", serif' font-size="5.3" text-anchor="end" fill="#444" textLength="42.5" lengthAdjust="spacingAndGlyphs"  stroke="#444" stroke-width="0.18" stroke-linejoin="round">groups=Low groups</text>
<text x="413.00" y="430.30" font-family='"Liberation Serif", serif' font-size="6.6" text-anchor="middle" fill="#222"  stroke="#222" stroke-width="0.18" stroke-linejoin="round">32</text>
<text x="413.00" y="449.00" font-family='"Liberation Serif", serif' font-size="6.6" text-anchor="middle" fill="#222"  stroke="#222" stroke-width="0.18" stroke-linejoin="round">32</text>
<text x="476.40" y="430.30" font-family='"Liberation Serif", serif' font-size="6.6" text-anchor="middle" fill="#222"  stroke="#222" stroke-width="0.18" stroke-linejoin="round">4</text>
<text x="476.40" y="449.00" font-family='"Liberation Serif", serif' font-size="6.6" text-anchor="middle" fill="#222"  stroke="#222" stroke-width="0.18" stroke-linejoin="round">15</text>
<text x="539.80" y="430.30" font-family='"Liberation Serif", serif' font-size="6.6" text-anchor="middle" fill="#222"  stroke="#222" stroke-width="0.18" stroke-linejoin="round">0</text>
<text x="539.80" y="449.00" font-family='"Liberation Serif", serif' font-size="6.6" text-anchor="middle" fill="#222"  stroke="#222" stroke-width="0.18" stroke-linejoin="round">4</text>
<text x="603.20" y="430.30" font-family='"Liberation Serif", serif' font-size="6.6" text-anchor="middle" fill="#222"  stroke="#222" stroke-width="0.18" stroke-linejoin="round">0</text>
<text x="603.20" y="449.00" font-family='"Liberation Serif", serif' font-size="6.6" text-anchor="middle" fill="#222"  stroke="#222" stroke-width="0.18" stroke-linejoin="round">2</text>
<text x="666.60" y="430.30" font-family='"Liberation Serif", serif' font-size="6.6" text-anchor="middle" fill="#222"  stroke="#222" stroke-width="0.18" stroke-linejoin="round">0</text>
<text x="666.60" y="449.00" font-family='"Liberation Serif", serif' font-size="6.6" text-anchor="middle" fill="#222"  stroke="#222" stroke-width="0.18" stroke-linejoin="round">1</text>
<line x1="413.00" y1="458.00" x2="413.00" y2="459.60" stroke="#555" stroke-width="0.8" />
<text x="413.00" y="465.00" font-family='"Liberation Serif", serif' font-size="5.8" text-anchor="middle" fill="#555"  stroke="#555" stroke-width="0.18" stroke-linejoin="round">0</text>
<line x1="476.40" y1="458.00" x2="476.40" y2="459.60" stroke="#555" stroke-width="0.8" />
<text x="476.40" y="465.00" font-family='"Liberation Serif", serif' font-size="5.8" text-anchor="middle" fill="#555"  stroke="#555" stroke-width="0.18" stroke-linejoin="round">5</text>
<line x1="539.80" y1="458.00" x2="539.80" y2="459.60" stroke="#555" stroke-width="0.8" />
<text x="539.80" y="465.00" font-family='"Liberation Serif", serif' font-size="5.8" text-anchor="middle" fill="#555"  stroke="#555" stroke-width="0.18" stroke-linejoin="round">10</text>
<line x1="603.20" y1="458.00" x2="603.20" y2="459.60" stroke="#555" stroke-width="0.8" />
<text x="603.20" y="465.00" font-family='"Liberation Serif", serif' font-size="5.8" text-anchor="middle" fill="#555"  stroke="#555" stroke-width="0.18" stroke-linejoin="round">15</text>
<line x1="666.60" y1="458.00" x2="666.60" y2="459.60" stroke="#555" stroke-width="0.8" />
<text x="666.60" y="465.00" font-family='"Liberation Serif", serif' font-size="5.8" text-anchor="middle" fill="#555"  stroke="#555" stroke-width="0.18" stroke-linejoin="round">20</text>
<text x="348.50" y="477.40" font-family='"Liberation Sans", sans-serif' font-size="14" text-anchor="middle" fill="#222" >E</text>
<line x1="365.00" y1="479.30" x2="683.60" y2="479.30" stroke="#777" stroke-width="0.9" />
<line x1="365.00" y1="479.30" x2="365.00" y2="704.00" stroke="#bbb" stroke-width="1.2" />
<line x1="365.00" y1="704.00" x2="683.60" y2="704.00" stroke="#bbb" stroke-width="1.2" />
<line x1="683.60" y1="479.30" x2="683.60" y2="704.00" stroke="#bbb" stroke-width="1.2" />
<line x1="362.50" y1="489.30" x2="365.00" y2="489.30" stroke="#555" stroke-width="0.8" />
<text x="362.00" y="491.10" font-family='"Liberation Serif", serif' font-size="5.3" text-anchor="end" fill="#444"  stroke="#444" stroke-width="0.18" stroke-linejoin="round">1.00</text>
<line x1="362.50" y1="540.38" x2="365.00" y2="540.38" stroke="#555" stroke-width="0.8" />
<text x="362.00" y="542.17" font-family='"Liberation Serif", serif' font-size="5.3" text-anchor="end" fill="#444"  stroke="#444" stroke-width="0.18" stroke-linejoin="round">0.75</text>
<line x1="362.50" y1="591.45" x2="365.00" y2="591.45" stroke="#555" stroke-width="0.8" />
<text x="362.00" y="593.25" font-family='"Liberation Serif", serif' font-size="5.3" text-anchor="end" fill="#444"  stroke="#444" stroke-width="0.18" stroke-linejoin="round">0.50</text>
<line x1="362.50" y1="642.52" x2="365.00" y2="642.52" stroke="#555" stroke-width="0.8" />
<text x="362.00" y="644.32" font-family='"Liberation Serif", serif' font-size="5.3" text-anchor="end" fill="#444"  stroke="#444" stroke-width="0.18" stroke-linejoin="round">0.25</text>
<line x1="362.50" y1="693.60" x2="365.00" y2="693.60" stroke="#555" stroke-width="0.8" />
<text x="362.00" y="695.40" font-family='"Liberation Serif", serif' font-size="5.3" text-anchor="end" fill="#444"  stroke="#444" stroke-width="0.18" stroke-linejoin="round">0.00</text>
<line x1="379.40" y1="704.00" x2="379.40" y2="706.00" stroke="#555" stroke-width="0.8" />
<text x="379.40" y="711.10" font-family='"Liberation Serif", serif' font-size="5.3" text-anchor="middle" fill="#444"  stroke="#444" stroke-width="0.18" stroke-linejoin="round">0.00</text>
<line x1="451.85" y1="704.00" x2="451.85" y2="706.00" stroke="#555" stroke-width="0.8" />
<text x="451.85" y="711.10" font-family='"Liberation Serif", serif' font-size="5.3" text-anchor="middle" fill="#444"  stroke="#444" stroke-width="0.18" stroke-linejoin="round">0.25</text>
<line x1="524.30" y1="704.00" x2="524.30" y2="706.00" stroke="#555" stroke-width="0.8" />
<text x="524.30" y="711.10" font-family='"Liberation Serif", serif' font-size="5.3" text-anchor="middle" fill="#444"  stroke="#444" stroke-width="0.18" stroke-linejoin="round">0.50</text>
<line x1="596.75" y1="704.00" x2="596.75" y2="706.00" stroke="#555" stroke-width="0.8" />
<text x="596.75" y="711.10" font-family='"Liberation Serif", serif' font-size="5.3" text-anchor="middle" fill="#444"  stroke="#444" stroke-width="0.18" stroke-linejoin="round">0.75</text>
<line x1="669.20" y1="704.00" x2="669.20" y2="706.00" stroke="#555" stroke-width="0.8" />
<text x="669.20" y="711.10" font-family='"Liberation Serif", serif' font-size="5.3" text-anchor="middle" fill="#444"  stroke="#444" stroke-width="0.18" stroke-linejoin="round">1.00</text>
<text x="524.60" y="717.80" font-family='"Liberation Serif", serif' font-size="5.3" text-anchor="middle" fill="#222" textLength="47.5" lengthAdjust="spacingAndGlyphs"  stroke="#222" stroke-width="0.18" stroke-linejoin="round">False positive fraction</text>
<text x="351.00" y="591.50" font-family='"Liberation Serif", serif' font-size="5.3" text-anchor="middle" fill="#222" transform="rotate(-90 351.00 591.50)" textLength="46" lengthAdjust="spacingAndGlyphs"  stroke="#222" stroke-width="0.18" stroke-linejoin="round">True positive fraction</text>
<polyline points="379.40,693.60 379.40,618.60 379.40,618.53 379.40,618.46 379.40,618.39 379.40,618.31 379.40,618.23 379.40,618.14 379.40,618.05 379.40,617.96 379.40,617.86 379.40,617.76 379.40,617.65 379.40,617.53 379.40,617.41 379.40,617.28 379.40,617.14 379.40,617.00 379.40,616.85 379.40,616.69 379.40,616.53 379.40,616.35 379.41,616.17 379.41,615.98 379.41,615.77 379.41,615.56 379.41,615.34 379.41,615.10 379.41,614.85 379.41,614.59 379.42,614.32 379.42,614.03 379.42,613.72 379.42,613.41 379.43,613.07 379.43,612.72 379.43,612.35 379.44,611.96 379.45,611.56 379.45,611.13 379.46,610.68 379.47,610.21 379.48,609.72 379.49,609.20 379.50,608.66 379.52,608.09 379.54,607.49 379.56,606.87 379.58,606.21 379.61,605.53 379.64,604.81 379.67,604.06 379.71,603.27 379.76,602.44 379.81,601.58 379.87,600.68 379.94,599.73 380.02,598.75 380.11,597.71 380.22,596.64 380.34,595.51 380.47,594.34 380.63,593.11 380.81,591.83 381.02,590.49 381.26,589.10 381.53,587.65 381.84,586.13 382.20,584.56 382.61,582.92 383.08,581.21 383.62,579.44 384.24,577.59 384.96,575.68 385.77,573.69 386.71,571.63 387.78,569.48 389.01,567.27 390.42,564.97 392.04,562.59 393.89,560.13 396.20,557.38 398.52,554.91 400.83,552.65 403.14,550.58 405.46,548.67 407.77,546.88 410.08,545.21 412.40,543.63 414.71,542.14 417.03,540.73 419.34,539.39 421.65,538.11 423.97,536.89 426.28,535.71 428.59,534.59 430.91,533.51 433.22,532.47 435.53,531.47 437.85,530.50 440.16,529.56 442.47,528.65 444.79,527.78 447.10,526.93 449.41,526.10 451.73,525.30 454.04,524.52 456.36,523.76 458.67,523.02 460.98,522.30 463.30,521.60 465.61,520.91 467.92,520.24 470.24,519.59 472.55,518.95 474.86,518.33 477.18,517.72 479.49,517.12 481.80,516.54 484.12,515.97 486.43,515.41 488.74,514.86 491.06,514.32 493.37,513.79 495.69,513.28 498.00,512.77 500.31,512.27 502.63,511.78 504.94,511.30 507.25,510.83 509.57,510.37 511.88,509.91 514.19,509.46 516.51,509.02 518.82,508.59 521.13,508.17 523.45,507.75 525.76,507.34 528.07,506.93 530.39,506.53 532.70,506.14 535.02,505.75 537.33,505.37 539.64,505.00 541.96,504.63 544.27,504.26 546.58,503.90 548.90,503.55 551.21,503.20 553.52,502.86 555.84,502.52 558.15,502.19 560.46,501.86 562.78,501.53 565.09,501.21 567.40,500.90 569.72,500.58 572.03,500.28 574.35,499.97 576.66,499.67 578.97,499.38 581.29,499.09 583.60,498.80 585.91,498.51 588.23,498.23 590.54,497.96 592.85,497.68 595.17,497.41 597.48,497.14 599.79,496.88 602.11,496.62 604.42,496.36 606.73,496.11 609.05,495.86 611.36,495.61 613.68,495.36 615.99,495.12 618.30,494.88 620.62,494.64 622.93,494.41 625.24,494.17 627.56,493.94 629.87,493.72 632.18,493.49 634.50,493.27 636.81,493.05 639.12,492.83 641.44,492.62 643.75,492.40 646.06,492.19 648.38,491.98 650.69,491.77 653.01,491.56 655.32,491.35 657.63,491.14 659.95,490.93 662.26,490.72 664.57,490.50 666.89,490.27 669.20,489.87" fill="none" stroke="#e28a2e" stroke-width="1.5" stroke-linejoin="round" />
<polyline points="379.40,693.60 379.40,693.30 379.40,693.27 379.40,693.23 379.40,693.19 379.41,693.14 379.41,693.09 379.41,693.03 379.41,692.97 379.41,692.90 379.41,692.82 379.41,692.73 379.41,692.64 379.42,692.53 379.42,692.42 379.42,692.29 379.43,692.14 379.43,691.98 379.43,691.81 379.44,691.62 379.45,691.40 379.45,691.17 379.46,690.91 379.47,690.62 379.48,690.31 379.49,689.96 379.51,689.58 379.52,689.16 379.54,688.71 379.57,688.20 379.59,687.65 379.62,687.04 379.65,686.38 379.69,685.65 379.74,684.86 379.79,683.99 379.85,683.04 379.92,682.00 380.01,680.87 380.10,679.64 380.21,678.30 380.33,676.84 380.48,675.26 380.65,673.54 380.84,671.68 381.06,669.67 381.32,667.49 381.62,665.13 381.96,662.59 382.36,659.86 382.82,656.92 383.35,653.76 383.97,650.37 384.67,646.75 385.49,642.88 386.44,638.75 387.53,634.35 388.80,629.69 390.26,624.75 391.94,619.52 393.89,614.02 396.20,608.08 398.52,602.68 400.83,597.72 403.14,593.13 405.46,588.86 407.77,584.87 410.08,581.12 412.40,577.60 414.71,574.27 417.03,571.12 419.34,568.13 421.65,565.28 423.97,562.57 426.28,559.99 428.59,557.52 430.91,555.15 433.22,552.89 435.53,550.72 437.85,548.63 440.16,546.63 442.47,544.70 444.79,542.85 447.10,541.06 449.41,539.34 451.73,537.68 454.04,536.08 456.36,534.53 458.67,533.04 460.98,531.59 463.30,530.19 465.61,528.84 467.92,527.53 470.24,526.27 472.55,525.04 474.86,523.85 477.18,522.70 479.49,521.58 481.80,520.50 484.12,519.45 486.43,518.43 488.74,517.45 491.06,516.49 493.37,515.56 495.69,514.66 498.00,513.78 500.31,512.93 502.63,512.10 504.94,511.30 507.25,510.52 509.57,509.77 511.88,509.03 514.19,508.32 516.51,507.63 518.82,506.95 521.13,506.30 523.45,505.66 525.76,505.05 528.07,504.45 530.39,503.87 532.70,503.30 535.02,502.75 537.33,502.22 539.64,501.70 541.96,501.20 544.27,500.71 546.58,500.24 548.90,499.78 551.21,499.33 553.52,498.90 555.84,498.48 558.15,498.07 560.46,497.67 562.78,497.29 565.09,496.92 567.40,496.56 569.72,496.21 572.03,495.87 574.35,495.55 576.66,495.23 578.97,494.93 581.29,494.63 583.60,494.34 585.91,494.07 588.23,493.80 590.54,493.54 592.85,493.29 595.17,493.05 597.48,492.82 599.79,492.60 602.11,492.39 604.42,492.18 606.73,491.98 609.05,491.79 611.36,491.61 613.68,491.44 615.99,491.27 618.30,491.11 620.62,490.96 622.93,490.81 625.24,490.68 627.56,490.54 629.87,490.42 632.18,490.30 634.50,490.19 636.81,490.09 639.12,489.99 641.44,489.90 643.75,489.81 646.06,489.73 648.38,489.66 650.69,489.60 653.01,489.53 655.32,489.48 657.63,489.43 659.95,489.39 662.26,489.36 664.57,489.33 666.89,489.31 669.20,489.30" fill="none" stroke="#3479bd" stroke-width="1.5" stroke-linejoin="round" />
<polyline points="379.40,693.60 379.40,693.60 379.40,693.60 379.40,693.60 379.40,693.60 379.41,693.60 379.41,693.60 379.41,693.60 379.41,693.59 379.41,693.59 379.41,693.59 379.41,693.59 379.41,693.59 379.42,693.58 379.42,693.58 379.42,693.58 379.43,693.57 379.43,693.56 379.43,693.55 379.44,693.54 379.45,693.53 379.45,693.52 379.46,693.50 379.47,693.48 379.48,693.45 379.49,693.42 379.51,693.38 379.52,693.34 379.54,693.28 379.57,693.22 379.59,693.14 379.62,693.04 379.65,692.93 379.69,692.79 379.74,692.62 379.79,692.43 379.85,692.20 379.92,691.92 380.01,691.60 380.10,691.21 380.21,690.76 380.33,690.23 380.48,689.60 380.65,688.86 380.84,688.00 381.06,686.99 381.32,685.82 381.62,684.47 381.96,682.90 382.36,681.08 382.82,679.00 383.35,676.61 383.97,673.88 384.67,670.78 385.49,667.27 386.44,663.30 387.53,658.85 388.80,653.88 390.26,648.35 391.94,642.25 393.89,635.54 396.20,628.03 398.52,620.97 400.83,614.32 403.14,608.05 405.46,602.14 407.77,596.55 410.08,591.26 412.40,586.25 414.71,581.51 417.03,577.01 419.34,572.74 421.65,568.69 423.97,564.84 426.28,561.17 428.59,557.69 430.91,554.37 433.22,551.22 435.53,548.21 437.85,545.35 440.16,542.62 442.47,540.03 444.79,537.55 447.10,535.19 449.41,532.93 451.73,530.78 454.04,528.73 456.36,526.78 458.67,524.91 460.98,523.13 463.30,521.43 465.61,519.81 467.92,518.27 470.24,516.79 472.55,515.38 474.86,514.04 477.18,512.76 479.49,511.54 481.80,510.37 484.12,509.26 486.43,508.20 488.74,507.18 491.06,506.22 493.37,505.30 495.69,504.43 498.00,503.59 500.31,502.80 502.63,502.04 504.94,501.32 507.25,500.63 509.57,499.98 511.88,499.36 514.19,498.77 516.51,498.21 518.82,497.67 521.13,497.16 523.45,496.68 525.76,496.23 528.07,495.79 530.39,495.38 532.70,494.99 535.02,494.62 537.33,494.27 539.64,493.94 541.96,493.63 544.27,493.33 546.58,493.05 548.90,492.79 551.21,492.54 553.52,492.31 555.84,492.09 558.15,491.88 560.46,491.68 562.78,491.50 565.09,491.33 567.40,491.17 569.72,491.01 572.03,490.87 574.35,490.74 576.66,490.62 578.97,490.50 581.29,490.39 583.60,490.29 585.91,490.20 588.23,490.11 590.54,490.03 592.85,489.96 595.17,489.89 597.48,489.83 599.79,489.77 602.11,489.72 604.42,489.67 606.73,489.63 609.05,489.59 611.36,489.55 613.68,489.52 615.99,489.49 618.30,489.46 620.62,489.44 622.93,489.42 625.24,489.40 627.56,489.38 629.87,489.37 632.18,489.36 634.50,489.35 636.81,489.34 639.12,489.33 641.44,489.32 643.75,489.32 646.06,489.31 648.38,489.31 650.69,489.31 653.01,489.30 655.32,489.30 657.63,489.30 659.95,489.30 662.26,489.30 664.57,489.30 666.89,489.30 669.20,489.30" fill="none" stroke="#c23b2c" stroke-width="1.5" stroke-linejoin="round" />
<text x="577.30" y="666.70" font-family='"Liberation Serif", serif' font-size="5.6" text-anchor="start" fill="#222"  stroke="#222" stroke-width="0.18" stroke-linejoin="round">Type</text>
<line x1="578.20" y1="675.40" x2="586.20" y2="675.40" stroke="#c23b2c" stroke-width="1.2" />
<text x="589.20" y="677.20" font-family='"Liberation Serif", serif' font-size="5.3" text-anchor="start" fill="#222" textLength="91.5" lengthAdjust="spacingAndGlyphs"  stroke="#222" stroke-width="0.18" stroke-linejoin="round">1−Years,AUC=0.878,95%CI(0.779−0.978)</text>
<line x1="578.20" y1="685.70" x2="586.20" y2="685.70" stroke="#3479bd" stroke-width="1.2" />
<text x="589.20" y="687.50" font-family='"Liberation Serif", serif' font-size="5.3" text-anchor="start" fill="#222" textLength="88.6" lengthAdjust="spacingAndGlyphs"  stroke="#222" stroke-width="0.18" stroke-linejoin="round">2−Years,AUC=0.838,95%CI(0.74−0.936)</text>
<line x1="578.20" y1="695.90" x2="586.20" y2="695.90" stroke="#e28a2e" stroke-width="1.2" />
<text x="589.20" y="697.70" font-family='"Liberation Serif", serif' font-size="5.3" text-anchor="start" fill="#222" textLength="91.5" lengthAdjust="spacingAndGlyphs"  stroke="#222" stroke-width="0.18" stroke-linejoin="round">3−Years,AUC=0.874,95%CI(0.791−0.958)</text>
</svg></body></html>
